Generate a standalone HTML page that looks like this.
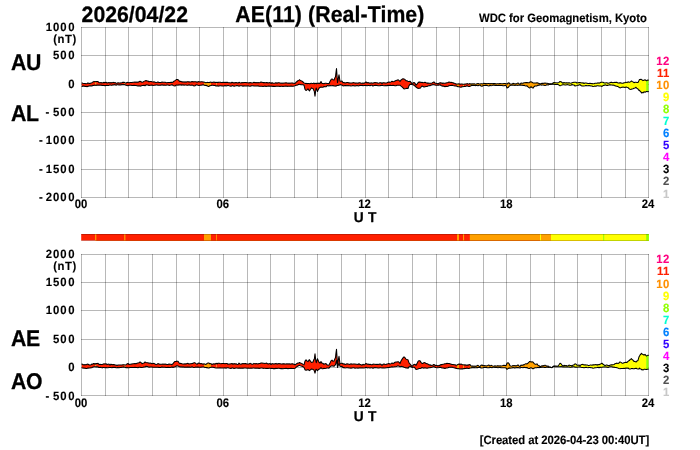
<!DOCTYPE html>
<html lang="en"><head><meta charset="utf-8"><title>AE(11) (Real-Time) 2026/04/22</title><style>html,body{margin:0;padding:0;background:#fff}body{width:700px;height:450px;overflow:hidden}svg{display:block}text{white-space:pre}</style></head><body>
<svg width="700" height="450" viewBox="0 0 700 450" font-family='"Liberation Sans", Arial, Helvetica, sans-serif' font-weight="bold" text-rendering="geometricPrecision" stroke="#000" stroke-width="0.25" stroke-linejoin="round">
<rect width="700" height="450" fill="#fff" stroke="none"/>
<g stroke="#000" stroke-opacity="0.28" stroke-width="1" shape-rendering="crispEdges"><line x1="81.5" y1="27" x2="81.5" y2="198"/><line x1="105.5" y1="27" x2="105.5" y2="198"/><line x1="128.5" y1="27" x2="128.5" y2="198"/><line x1="152.5" y1="27" x2="152.5" y2="198"/><line x1="176.5" y1="27" x2="176.5" y2="198"/><line x1="199.5" y1="27" x2="199.5" y2="198"/><line x1="223.5" y1="27" x2="223.5" y2="198"/><line x1="247.5" y1="27" x2="247.5" y2="198"/><line x1="270.5" y1="27" x2="270.5" y2="198"/><line x1="294.5" y1="27" x2="294.5" y2="198"/><line x1="317.5" y1="27" x2="317.5" y2="198"/><line x1="341.5" y1="27" x2="341.5" y2="198"/><line x1="365.5" y1="27" x2="365.5" y2="198"/><line x1="388.5" y1="27" x2="388.5" y2="198"/><line x1="412.5" y1="27" x2="412.5" y2="198"/><line x1="436.5" y1="27" x2="436.5" y2="198"/><line x1="459.5" y1="27" x2="459.5" y2="198"/><line x1="483.5" y1="27" x2="483.5" y2="198"/><line x1="506.5" y1="27" x2="506.5" y2="198"/><line x1="530.5" y1="27" x2="530.5" y2="198"/><line x1="554.5" y1="27" x2="554.5" y2="198"/><line x1="577.5" y1="27" x2="577.5" y2="198"/><line x1="601.5" y1="27" x2="601.5" y2="198"/><line x1="625.5" y1="27" x2="625.5" y2="198"/><line x1="648.5" y1="27" x2="648.5" y2="198"/><line x1="81" y1="27.5" x2="649" y2="27.5"/><line x1="81" y1="55.5" x2="649" y2="55.5"/><line x1="81" y1="84.5" x2="649" y2="84.5"/><line x1="81" y1="112.5" x2="649" y2="112.5"/><line x1="81" y1="140.5" x2="649" y2="140.5"/><line x1="81" y1="169.5" x2="649" y2="169.5"/><line x1="81" y1="197.5" x2="649" y2="197.5"/></g>
<g stroke="#000" stroke-opacity="0.28" stroke-width="1" shape-rendering="crispEdges"><line x1="81.5" y1="254" x2="81.5" y2="396"/><line x1="105.5" y1="254" x2="105.5" y2="396"/><line x1="128.5" y1="254" x2="128.5" y2="396"/><line x1="152.5" y1="254" x2="152.5" y2="396"/><line x1="176.5" y1="254" x2="176.5" y2="396"/><line x1="199.5" y1="254" x2="199.5" y2="396"/><line x1="223.5" y1="254" x2="223.5" y2="396"/><line x1="247.5" y1="254" x2="247.5" y2="396"/><line x1="270.5" y1="254" x2="270.5" y2="396"/><line x1="294.5" y1="254" x2="294.5" y2="396"/><line x1="317.5" y1="254" x2="317.5" y2="396"/><line x1="341.5" y1="254" x2="341.5" y2="396"/><line x1="365.5" y1="254" x2="365.5" y2="396"/><line x1="388.5" y1="254" x2="388.5" y2="396"/><line x1="412.5" y1="254" x2="412.5" y2="396"/><line x1="436.5" y1="254" x2="436.5" y2="396"/><line x1="459.5" y1="254" x2="459.5" y2="396"/><line x1="483.5" y1="254" x2="483.5" y2="396"/><line x1="506.5" y1="254" x2="506.5" y2="396"/><line x1="530.5" y1="254" x2="530.5" y2="396"/><line x1="554.5" y1="254" x2="554.5" y2="396"/><line x1="577.5" y1="254" x2="577.5" y2="396"/><line x1="601.5" y1="254" x2="601.5" y2="396"/><line x1="625.5" y1="254" x2="625.5" y2="396"/><line x1="648.5" y1="254" x2="648.5" y2="396"/><line x1="81" y1="254.5" x2="649" y2="254.5"/><line x1="81" y1="282.5" x2="649" y2="282.5"/><line x1="81" y1="310.5" x2="649" y2="310.5"/><line x1="81" y1="339.5" x2="649" y2="339.5"/><line x1="81" y1="367.5" x2="649" y2="367.5"/><line x1="81" y1="395.5" x2="649" y2="395.5"/></g>
<clipPath id="c1"><polygon points="81.8,83.40 82.0,82.96 83.0,83.25 84.0,83.51 85.0,83.40 86.0,83.73 87.0,83.47 88.0,82.84 88.4,83.35 89.0,83.41 90.0,83.39 91.0,82.99 92.0,82.64 93.0,81.93 93.5,81.67 94.0,81.38 95.0,81.76 96.0,81.61 97.0,81.59 98.0,81.56 99.0,82.62 100.0,82.66 101.0,82.55 102.0,83.08 103.0,82.64 104.0,82.37 105.0,82.64 106.0,82.23 107.0,82.98 108.0,82.66 109.0,82.60 110.0,83.01 111.0,82.42 112.0,82.91 113.0,82.35 114.0,82.67 115.0,82.56 116.0,83.17 117.0,83.25 118.0,82.81 119.0,83.09 120.0,82.89 121.0,82.99 122.0,82.63 123.0,82.36 124.0,82.28 125.0,82.70 126.0,83.04 127.0,82.55 128.0,82.34 129.0,82.88 130.0,82.52 131.0,82.46 132.0,82.47 133.0,82.35 134.0,82.29 135.0,82.01 136.0,82.30 137.0,82.02 138.0,82.17 139.0,81.68 140.0,81.21 141.0,81.74 142.0,82.27 143.0,81.94 144.0,81.40 145.0,80.90 146.0,80.49 147.0,80.93 148.0,81.00 149.0,81.85 150.0,81.50 151.0,81.55 152.0,81.81 153.0,81.98 154.0,81.83 155.0,82.17 156.0,82.49 157.0,82.28 158.0,81.93 159.0,82.47 160.0,82.52 161.0,82.42 162.0,82.12 163.0,82.28 164.0,82.20 165.0,82.26 166.0,82.61 167.0,82.66 168.0,82.47 169.0,82.45 170.0,82.54 171.0,82.39 172.0,82.38 173.0,82.18 174.0,81.21 175.0,80.62 176.0,79.92 176.5,79.45 177.0,79.52 178.0,79.63 179.0,80.76 180.0,81.61 181.0,81.36 182.0,81.93 183.0,81.70 184.0,82.14 185.0,81.86 186.0,82.20 187.0,81.72 188.0,81.76 189.0,81.89 190.0,82.06 191.0,81.95 192.0,81.55 193.0,81.87 194.0,81.83 195.0,81.73 196.0,81.68 197.0,82.21 198.0,81.74 199.0,81.64 200.0,81.97 201.0,81.85 202.0,81.81 203.0,82.00 204.0,81.93 205.0,82.60 206.0,82.74 206.5,82.59 207.0,82.39 208.0,82.45 209.0,82.41 209.5,82.57 210.0,82.29 211.0,82.12 212.0,82.54 213.0,82.21 214.0,82.04 215.0,82.53 216.0,82.30 217.0,82.57 218.0,82.36 219.0,82.23 220.0,82.21 221.0,82.38 222.0,82.44 223.0,82.33 224.0,82.46 225.0,82.19 226.0,82.54 227.0,82.15 228.0,82.51 229.0,82.71 230.0,82.81 231.0,82.95 232.0,82.24 233.0,82.76 234.0,82.86 235.0,82.82 236.0,82.41 237.0,82.71 238.0,83.04 239.0,82.31 240.0,82.75 241.0,82.90 242.0,82.51 243.0,82.80 244.0,82.44 245.0,82.51 246.0,82.51 247.0,82.74 248.0,82.69 249.0,82.93 250.0,82.52 251.0,82.68 252.0,82.90 253.0,82.79 254.0,82.35 255.0,82.77 256.0,82.50 257.0,82.67 258.0,82.63 259.0,82.81 260.0,82.55 261.0,82.10 262.0,82.18 263.0,82.63 264.0,82.39 265.0,82.68 266.0,82.61 267.0,82.50 268.0,83.02 269.0,82.73 270.0,82.57 271.0,83.48 272.0,82.61 273.0,83.18 274.0,83.25 275.0,83.08 276.0,82.68 277.0,83.28 278.0,82.74 279.0,82.77 280.0,82.99 281.0,83.25 282.0,83.14 283.0,83.26 284.0,82.99 285.0,83.05 286.0,82.84 287.0,83.03 288.0,83.23 289.0,83.04 290.0,83.22 291.0,82.99 292.0,82.99 293.0,83.13 294.0,83.18 295.0,83.49 296.0,82.28 297.0,81.51 298.0,80.60 299.0,80.12 299.5,79.70 300.0,80.13 301.0,80.68 302.0,81.11 303.0,82.01 304.0,82.88 305.0,83.40 306.0,83.31 307.0,83.64 308.0,83.45 309.0,83.51 309.5,83.68 310.0,83.68 311.0,83.35 311.5,83.31 312.0,83.49 313.0,83.40 314.0,83.01 314.3,83.71 315.0,83.43 315.8,83.59 316.0,83.17 316.3,83.71 317.0,83.30 317.5,83.40 318.0,83.12 319.0,83.39 320.0,83.37 321.0,81.58 322.0,83.52 323.0,83.44 324.0,83.64 325.0,83.32 326.0,83.21 327.0,83.42 328.0,83.56 329.0,83.70 330.0,81.50 331.0,79.69 332.0,78.91 333.0,79.70 334.0,79.94 335.0,77.61 335.5,76.69 336.0,72.41 336.5,68.57 337.0,75.42 337.5,82.73 338.0,80.03 339.0,74.77 340.0,81.26 341.0,81.33 342.0,81.00 343.0,82.73 344.0,82.37 345.0,83.12 346.0,82.80 347.0,82.46 348.0,82.54 349.0,82.88 350.0,83.09 351.0,82.91 352.0,83.03 353.0,82.68 354.0,82.63 355.0,83.12 356.0,83.03 357.0,82.92 358.0,83.21 359.0,82.72 360.0,82.83 361.0,83.15 362.0,83.33 363.0,82.93 364.0,83.29 365.0,82.79 366.0,81.80 367.0,82.89 368.0,82.58 369.0,82.98 370.0,83.13 371.0,82.89 372.0,82.91 373.0,83.23 374.0,82.65 375.0,82.60 376.0,82.78 377.0,82.66 378.0,83.22 379.0,82.99 380.0,82.73 381.0,82.79 382.0,83.53 383.0,82.79 384.0,82.76 385.0,82.99 386.0,82.91 387.0,82.65 388.0,82.25 389.0,82.03 390.0,82.26 391.0,81.89 392.0,81.32 393.0,81.72 394.0,81.42 395.0,80.97 396.0,80.60 397.0,80.34 398.0,79.77 399.0,80.38 400.0,81.50 401.0,80.01 402.0,79.31 403.0,78.76 404.0,78.90 405.0,79.60 406.0,80.72 407.0,80.79 408.0,81.41 409.0,81.43 410.0,81.18 411.0,82.35 412.0,83.62 413.0,82.99 414.0,82.49 415.0,83.21 416.0,85.21 417.0,84.16 418.0,82.78 419.0,81.97 420.0,82.11 421.0,82.49 422.0,82.32 423.0,82.71 424.0,82.51 425.0,82.25 426.0,82.80 427.0,83.11 428.0,83.02 429.0,83.31 430.0,83.25 431.0,83.35 432.0,82.98 433.0,82.52 433.5,82.00 434.0,81.92 435.0,83.09 436.0,83.17 437.0,83.45 438.0,83.72 439.0,83.22 440.0,82.86 441.0,82.80 442.0,83.38 443.0,83.12 444.0,83.24 445.0,83.33 446.0,82.96 447.0,82.76 448.0,82.54 449.0,82.07 450.0,82.25 451.0,82.49 452.0,82.39 453.0,82.88 454.0,83.13 455.0,83.56 456.0,84.05 457.0,84.03 458.0,84.10 459.0,83.75 460.0,84.26 461.0,83.99 462.0,84.03 463.0,84.26 464.0,84.16 465.0,83.91 466.0,84.10 467.0,83.61 468.0,84.02 469.0,83.96 470.0,83.57 471.0,84.21 472.0,83.75 473.0,84.05 474.0,83.79 475.0,84.09 476.0,84.15 477.0,83.67 478.0,83.51 479.0,83.81 480.0,84.01 481.0,83.74 482.0,83.68 483.0,83.91 484.0,83.20 485.0,83.64 486.0,83.48 487.0,83.84 488.0,83.60 489.0,83.51 490.0,83.67 491.0,83.42 492.0,83.73 493.0,83.58 494.0,83.64 495.0,83.56 496.0,83.91 497.0,83.68 498.0,83.81 499.0,83.79 500.0,83.50 501.0,83.79 502.0,83.74 503.0,83.72 504.0,83.56 505.0,83.55 506.0,83.81 507.0,84.11 508.0,83.04 508.5,83.14 509.0,82.74 510.0,84.10 511.0,84.02 512.0,84.16 513.0,83.33 514.0,83.79 515.0,83.71 516.0,83.90 517.0,83.37 518.0,82.98 519.0,83.68 520.0,84.34 521.0,83.05 522.0,83.31 523.0,83.17 524.0,82.83 525.0,82.75 526.0,82.53 527.0,82.62 528.0,82.82 529.0,82.74 529.5,82.45 530.0,82.01 531.0,81.75 532.0,82.22 533.0,82.95 534.0,83.00 535.0,82.99 536.0,83.07 537.0,82.67 538.0,83.01 539.0,83.64 540.0,83.67 541.0,83.75 542.0,83.17 543.0,83.36 544.0,83.32 545.0,83.07 546.0,83.34 547.0,83.30 548.0,83.52 549.0,83.80 550.0,83.89 551.0,83.85 552.0,83.96 553.0,82.97 554.0,82.46 555.0,82.82 556.0,82.85 557.0,83.01 558.0,82.88 559.0,82.38 560.0,81.49 561.0,81.71 562.0,82.52 563.0,83.26 564.0,82.51 565.0,83.03 566.0,82.86 567.0,82.74 568.0,83.03 569.0,82.64 570.0,82.99 571.0,83.15 572.0,82.84 573.0,82.55 574.0,82.29 575.0,82.34 576.0,82.28 577.0,83.10 578.0,82.75 579.0,82.64 580.0,82.64 581.0,82.73 582.0,82.93 583.0,82.76 584.0,83.45 585.0,82.96 586.0,82.99 587.0,83.27 588.0,83.56 589.0,83.58 590.0,83.22 591.0,83.51 592.0,83.62 593.0,83.84 594.0,83.68 595.0,83.32 596.0,83.15 597.0,83.36 598.0,82.84 599.0,83.18 600.0,82.67 601.0,82.22 602.0,82.15 603.0,82.35 604.0,82.66 605.0,83.13 606.0,82.74 607.0,82.78 608.0,83.40 609.0,82.92 610.0,82.63 611.0,82.32 612.0,82.39 613.0,82.80 614.0,82.36 615.0,82.51 616.0,82.24 617.0,82.38 618.0,82.96 619.0,83.10 620.0,82.70 621.0,82.88 622.0,83.19 623.0,83.26 624.0,82.78 625.0,82.78 626.0,82.15 627.0,82.64 628.0,81.83 629.0,82.19 629.5,82.27 630.0,82.06 631.0,81.43 631.5,80.95 632.0,81.47 633.0,81.88 634.0,82.71 635.0,82.26 636.0,82.31 637.0,82.42 638.0,82.41 639.0,80.49 639.5,79.47 640.0,79.50 641.0,79.22 641.5,79.64 642.0,79.79 643.0,80.60 644.0,80.19 645.0,79.80 646.0,80.45 646.5,80.69 647.0,80.36 648.0,80.05 648.7,80.16 648.7,91.27 648.0,91.68 647.0,91.48 646.5,91.48 646.0,91.67 645.0,92.22 644.0,91.79 643.0,92.88 642.0,92.41 641.5,93.05 641.0,92.09 640.0,91.17 639.5,90.18 639.0,90.55 638.0,88.95 637.0,88.52 636.0,87.31 635.0,87.95 634.0,88.31 633.0,88.71 632.0,88.93 631.5,89.22 631.0,89.30 630.0,89.40 629.5,88.89 629.0,88.66 628.0,87.54 627.0,87.34 626.0,86.97 625.0,87.48 624.0,87.22 623.0,87.13 622.0,87.15 621.0,87.58 620.0,87.91 619.0,87.29 618.0,86.60 617.0,86.38 616.0,86.00 615.0,85.86 614.0,85.13 613.0,85.34 612.0,84.95 611.0,85.10 610.0,84.86 609.0,84.89 608.0,85.39 607.0,85.38 606.0,85.23 605.0,84.86 604.0,85.45 603.0,85.55 602.0,86.42 601.0,86.00 600.0,86.00 599.0,85.98 598.0,85.83 597.0,85.74 596.0,86.17 595.0,86.08 594.0,86.35 593.0,86.59 592.0,85.98 591.0,86.09 590.0,85.69 589.0,85.54 588.0,85.78 587.0,85.83 586.0,85.48 585.0,85.80 584.0,85.93 583.0,85.95 582.0,86.05 581.0,85.50 580.0,84.56 579.0,85.17 578.0,85.11 577.0,85.42 576.0,85.68 575.0,86.09 574.0,84.92 573.0,85.08 572.0,84.51 571.0,85.26 570.0,85.17 569.0,85.11 568.0,84.68 567.0,84.63 566.0,85.03 565.0,84.91 564.0,84.76 563.0,84.66 562.0,84.89 561.0,85.40 560.0,85.74 559.0,85.15 558.0,84.53 557.0,84.45 556.0,84.51 555.0,84.39 554.0,84.12 553.0,84.03 552.0,84.16 551.0,84.22 550.0,84.46 549.0,84.52 548.0,85.16 547.0,84.62 546.0,85.28 545.0,85.53 544.0,85.28 543.0,85.09 542.0,84.95 541.0,85.14 540.0,84.54 539.0,85.41 538.0,85.04 537.0,85.97 536.0,85.96 535.0,85.99 534.0,86.73 533.0,88.10 532.0,87.48 531.0,86.72 530.0,87.64 529.5,87.93 529.0,87.65 528.0,86.92 527.0,85.81 526.0,86.04 525.0,85.78 524.0,85.16 523.0,85.51 522.0,85.07 521.0,85.19 520.0,85.10 519.0,85.10 518.0,85.36 517.0,85.18 516.0,85.05 515.0,85.39 514.0,85.26 513.0,85.08 512.0,85.27 511.0,85.20 510.0,85.55 509.0,86.33 508.5,87.27 508.0,87.42 507.0,87.99 506.0,85.32 505.0,85.43 504.0,85.75 503.0,85.76 502.0,85.57 501.0,85.48 500.0,85.41 499.0,85.29 498.0,85.56 497.0,85.40 496.0,85.28 495.0,85.47 494.0,85.05 493.0,85.14 492.0,85.57 491.0,85.66 490.0,85.14 489.0,86.07 488.0,85.82 487.0,85.53 486.0,85.26 485.0,85.49 484.0,85.35 483.0,85.76 482.0,86.25 481.0,86.02 480.0,85.20 479.0,85.23 478.0,85.71 477.0,85.54 476.0,85.39 475.0,85.62 474.0,85.17 473.0,85.57 472.0,85.23 471.0,85.79 470.0,86.37 469.0,86.42 468.0,86.13 467.0,85.80 466.0,86.15 465.0,86.40 464.0,86.38 463.0,86.78 462.0,86.82 461.0,87.25 460.0,87.08 459.0,86.82 458.0,86.81 457.0,86.21 456.0,85.99 455.0,86.00 454.0,85.68 453.0,85.56 452.0,85.21 451.0,85.51 450.0,85.59 449.0,85.67 448.0,86.24 447.0,86.55 446.0,86.36 445.0,86.76 444.0,86.32 443.0,86.13 442.0,85.95 441.0,85.53 440.0,84.72 439.0,85.13 438.0,85.01 437.0,85.22 436.0,85.23 435.0,84.95 434.0,84.66 433.5,84.75 433.0,84.58 432.0,85.01 431.0,85.11 430.0,85.68 429.0,85.60 428.0,86.09 427.0,86.53 426.0,86.40 425.0,86.66 424.0,87.04 423.0,86.48 422.0,85.99 421.0,87.25 420.0,88.27 419.0,88.34 418.0,88.42 417.0,87.71 416.0,87.01 415.0,86.10 414.0,85.25 413.0,84.78 412.0,84.45 411.0,84.38 410.0,84.38 409.0,85.61 408.0,88.55 407.0,88.21 406.0,88.55 405.0,88.76 404.0,88.92 403.0,87.87 402.0,86.87 401.0,86.08 400.0,85.16 399.0,85.24 398.0,85.23 397.0,85.33 396.0,85.69 395.0,85.82 394.0,85.58 393.0,85.38 392.0,85.46 391.0,85.37 390.0,85.17 389.0,85.44 388.0,85.37 387.0,85.64 386.0,85.43 385.0,85.71 384.0,85.81 383.0,85.54 382.0,85.16 381.0,85.43 380.0,85.61 379.0,85.66 378.0,85.67 377.0,85.47 376.0,85.35 375.0,85.39 374.0,85.43 373.0,86.09 372.0,85.24 371.0,85.29 370.0,85.80 369.0,85.42 368.0,85.50 367.0,85.69 366.0,85.38 365.0,85.40 364.0,85.47 363.0,85.66 362.0,85.17 361.0,85.40 360.0,85.30 359.0,85.92 358.0,85.73 357.0,85.64 356.0,85.77 355.0,86.04 354.0,85.65 353.0,85.59 352.0,85.85 351.0,86.08 350.0,85.67 349.0,85.70 348.0,85.57 347.0,85.65 346.0,85.62 345.0,85.63 344.0,85.77 343.0,85.91 342.0,85.03 341.0,84.92 340.0,84.56 339.0,85.32 338.0,85.36 337.5,85.52 337.0,85.45 336.5,85.80 336.0,86.22 335.5,86.07 335.0,85.93 334.0,85.99 333.0,85.44 332.0,85.79 331.0,85.85 330.0,85.58 329.0,85.96 328.0,85.63 327.0,85.82 326.0,86.74 325.0,86.83 324.0,86.40 323.0,87.29 322.0,87.32 321.0,87.08 320.0,87.41 319.0,88.22 318.0,90.17 317.5,91.50 317.0,90.36 316.3,88.08 316.0,88.67 315.8,89.69 315.0,96.23 314.3,91.32 314.0,90.74 313.0,88.49 312.0,88.23 311.5,87.91 311.0,88.49 310.0,90.04 309.5,90.97 309.0,90.46 308.0,88.80 307.0,89.84 306.0,90.51 305.0,89.34 304.0,85.22 303.0,84.83 302.0,84.65 301.0,84.65 300.0,84.45 299.5,84.34 299.0,84.19 298.0,84.77 297.0,85.15 296.0,85.31 295.0,85.73 294.0,86.07 293.0,86.33 292.0,86.23 291.0,86.09 290.0,86.18 289.0,86.29 288.0,86.33 287.0,86.37 286.0,85.94 285.0,86.17 284.0,86.30 283.0,86.46 282.0,86.18 281.0,86.28 280.0,86.42 279.0,86.16 278.0,86.20 277.0,86.19 276.0,86.34 275.0,86.50 274.0,86.28 273.0,86.37 272.0,86.16 271.0,86.04 270.0,86.28 269.0,85.93 268.0,86.12 267.0,86.18 266.0,86.53 265.0,86.09 264.0,86.26 263.0,86.43 262.0,86.25 261.0,86.15 260.0,86.19 259.0,86.29 258.0,85.76 257.0,86.06 256.0,86.01 255.0,85.95 254.0,86.02 253.0,85.67 252.0,85.73 251.0,85.89 250.0,86.23 249.0,86.02 248.0,85.68 247.0,85.93 246.0,85.93 245.0,86.01 244.0,85.75 243.0,86.22 242.0,85.76 241.0,85.76 240.0,85.82 239.0,86.20 238.0,85.65 237.0,85.64 236.0,85.82 235.0,85.91 234.0,86.34 233.0,85.58 232.0,85.79 231.0,86.34 230.0,85.97 229.0,85.74 228.0,85.38 227.0,85.68 226.0,86.07 225.0,85.51 224.0,85.93 223.0,85.91 222.0,86.05 221.0,85.76 220.0,85.73 219.0,86.07 218.0,86.11 217.0,85.71 216.0,86.05 215.0,85.43 214.0,85.42 213.0,85.27 212.0,85.26 211.0,85.47 210.0,85.68 209.5,85.80 209.0,86.37 208.0,86.40 207.0,85.62 206.5,85.77 206.0,85.20 205.0,85.41 204.0,85.03 203.0,84.78 202.0,84.97 201.0,85.27 200.0,85.21 199.0,85.55 198.0,85.34 197.0,84.88 196.0,84.94 195.0,85.76 194.0,85.92 193.0,85.38 192.0,85.01 191.0,85.20 190.0,85.30 189.0,84.70 188.0,85.33 187.0,85.19 186.0,85.03 185.0,84.97 184.0,85.16 183.0,84.73 182.0,85.13 181.0,84.87 180.0,85.05 179.0,84.82 178.0,85.26 177.0,84.98 176.5,85.11 176.0,85.28 175.0,86.02 174.0,85.73 173.0,85.40 172.0,84.64 171.0,85.01 170.0,85.15 169.0,85.39 168.0,84.95 167.0,85.03 166.0,85.28 165.0,85.18 164.0,84.95 163.0,85.19 162.0,84.79 161.0,85.14 160.0,85.19 159.0,85.27 158.0,85.27 157.0,85.01 156.0,84.95 155.0,85.15 154.0,85.35 153.0,85.43 152.0,84.99 151.0,85.17 150.0,85.25 149.0,85.58 148.0,85.04 147.0,85.08 146.0,84.88 145.0,85.81 144.0,85.24 143.0,85.53 142.0,85.40 141.0,86.08 140.0,86.12 139.0,85.81 138.0,86.08 137.0,85.65 136.0,85.48 135.0,85.51 134.0,85.37 133.0,85.45 132.0,85.50 131.0,85.27 130.0,85.18 129.0,85.28 128.0,85.84 127.0,85.49 126.0,85.34 125.0,84.73 124.0,84.48 123.0,84.67 122.0,84.57 121.0,84.95 120.0,84.79 119.0,85.10 118.0,84.83 117.0,84.80 116.0,85.18 115.0,84.58 114.0,85.02 113.0,84.83 112.0,85.20 111.0,85.24 110.0,84.87 109.0,85.41 108.0,85.46 107.0,85.34 106.0,85.45 105.0,85.61 104.0,85.45 103.0,85.37 102.0,85.48 101.0,85.00 100.0,85.29 99.0,85.03 98.0,85.32 97.0,85.12 96.0,85.44 95.0,85.01 94.0,85.39 93.5,85.52 93.0,85.22 92.0,86.08 91.0,85.78 90.0,85.86 89.0,86.02 88.4,86.28 88.0,86.21 87.0,86.69 86.0,86.35 85.0,86.40 84.0,86.06 83.0,86.12 82.0,86.44 81.8,86.19"/></clipPath><g clip-path="url(#c1)" stroke="none"><rect x="80.60" y="60" width="14.90" height="45" fill="#ff2000"/><rect x="95.25" y="60" width="0.90" height="45" fill="#ffa000"/><rect x="96.15" y="60" width="28.45" height="45" fill="#ff2000"/><rect x="124.35" y="60" width="0.90" height="45" fill="#ffa000"/><rect x="125.25" y="60" width="79.15" height="45" fill="#ff2000"/><rect x="204.00" y="60" width="7.40" height="45" fill="#ffa000"/><rect x="211.00" y="60" width="5.60" height="45" fill="#ff2000"/><rect x="216.35" y="60" width="0.50" height="45" fill="#ffa000"/><rect x="216.85" y="60" width="240.55" height="45" fill="#ff2000"/><rect x="457.00" y="60" width="2.40" height="45" fill="#ffa000"/><rect x="459.00" y="60" width="4.40" height="45" fill="#ff2000"/><rect x="463.15" y="60" width="0.80" height="45" fill="#ffa000"/><rect x="463.95" y="60" width="6.25" height="45" fill="#ff2000"/><rect x="469.80" y="60" width="70.60" height="45" fill="#ffa000"/><rect x="540.15" y="60" width="0.70" height="45" fill="#ffff00"/><rect x="540.85" y="60" width="10.55" height="45" fill="#ffa000"/><rect x="551.00" y="60" width="52.60" height="45" fill="#ffff00"/><rect x="603.35" y="60" width="0.70" height="45" fill="#90ff00"/><rect x="604.05" y="60" width="42.55" height="45" fill="#ffff00"/><rect x="646.20" y="60" width="2.60" height="45" fill="#90ff00"/></g><g fill="none" stroke="#000" stroke-width="1.05" stroke-linejoin="round"><polyline points="81.8,83.40 82.0,82.96 83.0,83.25 84.0,83.51 85.0,83.40 86.0,83.73 87.0,83.47 88.0,82.84 88.4,83.35 89.0,83.41 90.0,83.39 91.0,82.99 92.0,82.64 93.0,81.93 93.5,81.67 94.0,81.38 95.0,81.76 96.0,81.61 97.0,81.59 98.0,81.56 99.0,82.62 100.0,82.66 101.0,82.55 102.0,83.08 103.0,82.64 104.0,82.37 105.0,82.64 106.0,82.23 107.0,82.98 108.0,82.66 109.0,82.60 110.0,83.01 111.0,82.42 112.0,82.91 113.0,82.35 114.0,82.67 115.0,82.56 116.0,83.17 117.0,83.25 118.0,82.81 119.0,83.09 120.0,82.89 121.0,82.99 122.0,82.63 123.0,82.36 124.0,82.28 125.0,82.70 126.0,83.04 127.0,82.55 128.0,82.34 129.0,82.88 130.0,82.52 131.0,82.46 132.0,82.47 133.0,82.35 134.0,82.29 135.0,82.01 136.0,82.30 137.0,82.02 138.0,82.17 139.0,81.68 140.0,81.21 141.0,81.74 142.0,82.27 143.0,81.94 144.0,81.40 145.0,80.90 146.0,80.49 147.0,80.93 148.0,81.00 149.0,81.85 150.0,81.50 151.0,81.55 152.0,81.81 153.0,81.98 154.0,81.83 155.0,82.17 156.0,82.49 157.0,82.28 158.0,81.93 159.0,82.47 160.0,82.52 161.0,82.42 162.0,82.12 163.0,82.28 164.0,82.20 165.0,82.26 166.0,82.61 167.0,82.66 168.0,82.47 169.0,82.45 170.0,82.54 171.0,82.39 172.0,82.38 173.0,82.18 174.0,81.21 175.0,80.62 176.0,79.92 176.5,79.45 177.0,79.52 178.0,79.63 179.0,80.76 180.0,81.61 181.0,81.36 182.0,81.93 183.0,81.70 184.0,82.14 185.0,81.86 186.0,82.20 187.0,81.72 188.0,81.76 189.0,81.89 190.0,82.06 191.0,81.95 192.0,81.55 193.0,81.87 194.0,81.83 195.0,81.73 196.0,81.68 197.0,82.21 198.0,81.74 199.0,81.64 200.0,81.97 201.0,81.85 202.0,81.81 203.0,82.00 204.0,81.93 205.0,82.60 206.0,82.74 206.5,82.59 207.0,82.39 208.0,82.45 209.0,82.41 209.5,82.57 210.0,82.29 211.0,82.12 212.0,82.54 213.0,82.21 214.0,82.04 215.0,82.53 216.0,82.30 217.0,82.57 218.0,82.36 219.0,82.23 220.0,82.21 221.0,82.38 222.0,82.44 223.0,82.33 224.0,82.46 225.0,82.19 226.0,82.54 227.0,82.15 228.0,82.51 229.0,82.71 230.0,82.81 231.0,82.95 232.0,82.24 233.0,82.76 234.0,82.86 235.0,82.82 236.0,82.41 237.0,82.71 238.0,83.04 239.0,82.31 240.0,82.75 241.0,82.90 242.0,82.51 243.0,82.80 244.0,82.44 245.0,82.51 246.0,82.51 247.0,82.74 248.0,82.69 249.0,82.93 250.0,82.52 251.0,82.68 252.0,82.90 253.0,82.79 254.0,82.35 255.0,82.77 256.0,82.50 257.0,82.67 258.0,82.63 259.0,82.81 260.0,82.55 261.0,82.10 262.0,82.18 263.0,82.63 264.0,82.39 265.0,82.68 266.0,82.61 267.0,82.50 268.0,83.02 269.0,82.73 270.0,82.57 271.0,83.48 272.0,82.61 273.0,83.18 274.0,83.25 275.0,83.08 276.0,82.68 277.0,83.28 278.0,82.74 279.0,82.77 280.0,82.99 281.0,83.25 282.0,83.14 283.0,83.26 284.0,82.99 285.0,83.05 286.0,82.84 287.0,83.03 288.0,83.23 289.0,83.04 290.0,83.22 291.0,82.99 292.0,82.99 293.0,83.13 294.0,83.18 295.0,83.49 296.0,82.28 297.0,81.51 298.0,80.60 299.0,80.12 299.5,79.70 300.0,80.13 301.0,80.68 302.0,81.11 303.0,82.01 304.0,82.88 305.0,83.40 306.0,83.31 307.0,83.64 308.0,83.45 309.0,83.51 309.5,83.68 310.0,83.68 311.0,83.35 311.5,83.31 312.0,83.49 313.0,83.40 314.0,83.01 314.3,83.71 315.0,83.43 315.8,83.59 316.0,83.17 316.3,83.71 317.0,83.30 317.5,83.40 318.0,83.12 319.0,83.39 320.0,83.37 321.0,81.58 322.0,83.52 323.0,83.44 324.0,83.64 325.0,83.32 326.0,83.21 327.0,83.42 328.0,83.56 329.0,83.70 330.0,81.50 331.0,79.69 332.0,78.91 333.0,79.70 334.0,79.94 335.0,77.61 335.5,76.69 336.0,72.41 336.5,68.57 337.0,75.42 337.5,82.73 338.0,80.03 339.0,74.77 340.0,81.26 341.0,81.33 342.0,81.00 343.0,82.73 344.0,82.37 345.0,83.12 346.0,82.80 347.0,82.46 348.0,82.54 349.0,82.88 350.0,83.09 351.0,82.91 352.0,83.03 353.0,82.68 354.0,82.63 355.0,83.12 356.0,83.03 357.0,82.92 358.0,83.21 359.0,82.72 360.0,82.83 361.0,83.15 362.0,83.33 363.0,82.93 364.0,83.29 365.0,82.79 366.0,81.80 367.0,82.89 368.0,82.58 369.0,82.98 370.0,83.13 371.0,82.89 372.0,82.91 373.0,83.23 374.0,82.65 375.0,82.60 376.0,82.78 377.0,82.66 378.0,83.22 379.0,82.99 380.0,82.73 381.0,82.79 382.0,83.53 383.0,82.79 384.0,82.76 385.0,82.99 386.0,82.91 387.0,82.65 388.0,82.25 389.0,82.03 390.0,82.26 391.0,81.89 392.0,81.32 393.0,81.72 394.0,81.42 395.0,80.97 396.0,80.60 397.0,80.34 398.0,79.77 399.0,80.38 400.0,81.50 401.0,80.01 402.0,79.31 403.0,78.76 404.0,78.90 405.0,79.60 406.0,80.72 407.0,80.79 408.0,81.41 409.0,81.43 410.0,81.18 411.0,82.35 412.0,83.62 413.0,82.99 414.0,82.49 415.0,83.21 416.0,85.21 417.0,84.16 418.0,82.78 419.0,81.97 420.0,82.11 421.0,82.49 422.0,82.32 423.0,82.71 424.0,82.51 425.0,82.25 426.0,82.80 427.0,83.11 428.0,83.02 429.0,83.31 430.0,83.25 431.0,83.35 432.0,82.98 433.0,82.52 433.5,82.00 434.0,81.92 435.0,83.09 436.0,83.17 437.0,83.45 438.0,83.72 439.0,83.22 440.0,82.86 441.0,82.80 442.0,83.38 443.0,83.12 444.0,83.24 445.0,83.33 446.0,82.96 447.0,82.76 448.0,82.54 449.0,82.07 450.0,82.25 451.0,82.49 452.0,82.39 453.0,82.88 454.0,83.13 455.0,83.56 456.0,84.05 457.0,84.03 458.0,84.10 459.0,83.75 460.0,84.26 461.0,83.99 462.0,84.03 463.0,84.26 464.0,84.16 465.0,83.91 466.0,84.10 467.0,83.61 468.0,84.02 469.0,83.96 470.0,83.57 471.0,84.21 472.0,83.75 473.0,84.05 474.0,83.79 475.0,84.09 476.0,84.15 477.0,83.67 478.0,83.51 479.0,83.81 480.0,84.01 481.0,83.74 482.0,83.68 483.0,83.91 484.0,83.20 485.0,83.64 486.0,83.48 487.0,83.84 488.0,83.60 489.0,83.51 490.0,83.67 491.0,83.42 492.0,83.73 493.0,83.58 494.0,83.64 495.0,83.56 496.0,83.91 497.0,83.68 498.0,83.81 499.0,83.79 500.0,83.50 501.0,83.79 502.0,83.74 503.0,83.72 504.0,83.56 505.0,83.55 506.0,83.81 507.0,84.11 508.0,83.04 508.5,83.14 509.0,82.74 510.0,84.10 511.0,84.02 512.0,84.16 513.0,83.33 514.0,83.79 515.0,83.71 516.0,83.90 517.0,83.37 518.0,82.98 519.0,83.68 520.0,84.34 521.0,83.05 522.0,83.31 523.0,83.17 524.0,82.83 525.0,82.75 526.0,82.53 527.0,82.62 528.0,82.82 529.0,82.74 529.5,82.45 530.0,82.01 531.0,81.75 532.0,82.22 533.0,82.95 534.0,83.00 535.0,82.99 536.0,83.07 537.0,82.67 538.0,83.01 539.0,83.64 540.0,83.67 541.0,83.75 542.0,83.17 543.0,83.36 544.0,83.32 545.0,83.07 546.0,83.34 547.0,83.30 548.0,83.52 549.0,83.80 550.0,83.89 551.0,83.85 552.0,83.96 553.0,82.97 554.0,82.46 555.0,82.82 556.0,82.85 557.0,83.01 558.0,82.88 559.0,82.38 560.0,81.49 561.0,81.71 562.0,82.52 563.0,83.26 564.0,82.51 565.0,83.03 566.0,82.86 567.0,82.74 568.0,83.03 569.0,82.64 570.0,82.99 571.0,83.15 572.0,82.84 573.0,82.55 574.0,82.29 575.0,82.34 576.0,82.28 577.0,83.10 578.0,82.75 579.0,82.64 580.0,82.64 581.0,82.73 582.0,82.93 583.0,82.76 584.0,83.45 585.0,82.96 586.0,82.99 587.0,83.27 588.0,83.56 589.0,83.58 590.0,83.22 591.0,83.51 592.0,83.62 593.0,83.84 594.0,83.68 595.0,83.32 596.0,83.15 597.0,83.36 598.0,82.84 599.0,83.18 600.0,82.67 601.0,82.22 602.0,82.15 603.0,82.35 604.0,82.66 605.0,83.13 606.0,82.74 607.0,82.78 608.0,83.40 609.0,82.92 610.0,82.63 611.0,82.32 612.0,82.39 613.0,82.80 614.0,82.36 615.0,82.51 616.0,82.24 617.0,82.38 618.0,82.96 619.0,83.10 620.0,82.70 621.0,82.88 622.0,83.19 623.0,83.26 624.0,82.78 625.0,82.78 626.0,82.15 627.0,82.64 628.0,81.83 629.0,82.19 629.5,82.27 630.0,82.06 631.0,81.43 631.5,80.95 632.0,81.47 633.0,81.88 634.0,82.71 635.0,82.26 636.0,82.31 637.0,82.42 638.0,82.41 639.0,80.49 639.5,79.47 640.0,79.50 641.0,79.22 641.5,79.64 642.0,79.79 643.0,80.60 644.0,80.19 645.0,79.80 646.0,80.45 646.5,80.69 647.0,80.36 648.0,80.05 648.7,80.16"/><polyline points="648.7,91.27 648.0,91.68 647.0,91.48 646.5,91.48 646.0,91.67 645.0,92.22 644.0,91.79 643.0,92.88 642.0,92.41 641.5,93.05 641.0,92.09 640.0,91.17 639.5,90.18 639.0,90.55 638.0,88.95 637.0,88.52 636.0,87.31 635.0,87.95 634.0,88.31 633.0,88.71 632.0,88.93 631.5,89.22 631.0,89.30 630.0,89.40 629.5,88.89 629.0,88.66 628.0,87.54 627.0,87.34 626.0,86.97 625.0,87.48 624.0,87.22 623.0,87.13 622.0,87.15 621.0,87.58 620.0,87.91 619.0,87.29 618.0,86.60 617.0,86.38 616.0,86.00 615.0,85.86 614.0,85.13 613.0,85.34 612.0,84.95 611.0,85.10 610.0,84.86 609.0,84.89 608.0,85.39 607.0,85.38 606.0,85.23 605.0,84.86 604.0,85.45 603.0,85.55 602.0,86.42 601.0,86.00 600.0,86.00 599.0,85.98 598.0,85.83 597.0,85.74 596.0,86.17 595.0,86.08 594.0,86.35 593.0,86.59 592.0,85.98 591.0,86.09 590.0,85.69 589.0,85.54 588.0,85.78 587.0,85.83 586.0,85.48 585.0,85.80 584.0,85.93 583.0,85.95 582.0,86.05 581.0,85.50 580.0,84.56 579.0,85.17 578.0,85.11 577.0,85.42 576.0,85.68 575.0,86.09 574.0,84.92 573.0,85.08 572.0,84.51 571.0,85.26 570.0,85.17 569.0,85.11 568.0,84.68 567.0,84.63 566.0,85.03 565.0,84.91 564.0,84.76 563.0,84.66 562.0,84.89 561.0,85.40 560.0,85.74 559.0,85.15 558.0,84.53 557.0,84.45 556.0,84.51 555.0,84.39 554.0,84.12 553.0,84.03 552.0,84.16 551.0,84.22 550.0,84.46 549.0,84.52 548.0,85.16 547.0,84.62 546.0,85.28 545.0,85.53 544.0,85.28 543.0,85.09 542.0,84.95 541.0,85.14 540.0,84.54 539.0,85.41 538.0,85.04 537.0,85.97 536.0,85.96 535.0,85.99 534.0,86.73 533.0,88.10 532.0,87.48 531.0,86.72 530.0,87.64 529.5,87.93 529.0,87.65 528.0,86.92 527.0,85.81 526.0,86.04 525.0,85.78 524.0,85.16 523.0,85.51 522.0,85.07 521.0,85.19 520.0,85.10 519.0,85.10 518.0,85.36 517.0,85.18 516.0,85.05 515.0,85.39 514.0,85.26 513.0,85.08 512.0,85.27 511.0,85.20 510.0,85.55 509.0,86.33 508.5,87.27 508.0,87.42 507.0,87.99 506.0,85.32 505.0,85.43 504.0,85.75 503.0,85.76 502.0,85.57 501.0,85.48 500.0,85.41 499.0,85.29 498.0,85.56 497.0,85.40 496.0,85.28 495.0,85.47 494.0,85.05 493.0,85.14 492.0,85.57 491.0,85.66 490.0,85.14 489.0,86.07 488.0,85.82 487.0,85.53 486.0,85.26 485.0,85.49 484.0,85.35 483.0,85.76 482.0,86.25 481.0,86.02 480.0,85.20 479.0,85.23 478.0,85.71 477.0,85.54 476.0,85.39 475.0,85.62 474.0,85.17 473.0,85.57 472.0,85.23 471.0,85.79 470.0,86.37 469.0,86.42 468.0,86.13 467.0,85.80 466.0,86.15 465.0,86.40 464.0,86.38 463.0,86.78 462.0,86.82 461.0,87.25 460.0,87.08 459.0,86.82 458.0,86.81 457.0,86.21 456.0,85.99 455.0,86.00 454.0,85.68 453.0,85.56 452.0,85.21 451.0,85.51 450.0,85.59 449.0,85.67 448.0,86.24 447.0,86.55 446.0,86.36 445.0,86.76 444.0,86.32 443.0,86.13 442.0,85.95 441.0,85.53 440.0,84.72 439.0,85.13 438.0,85.01 437.0,85.22 436.0,85.23 435.0,84.95 434.0,84.66 433.5,84.75 433.0,84.58 432.0,85.01 431.0,85.11 430.0,85.68 429.0,85.60 428.0,86.09 427.0,86.53 426.0,86.40 425.0,86.66 424.0,87.04 423.0,86.48 422.0,85.99 421.0,87.25 420.0,88.27 419.0,88.34 418.0,88.42 417.0,87.71 416.0,87.01 415.0,86.10 414.0,85.25 413.0,84.78 412.0,84.45 411.0,84.38 410.0,84.38 409.0,85.61 408.0,88.55 407.0,88.21 406.0,88.55 405.0,88.76 404.0,88.92 403.0,87.87 402.0,86.87 401.0,86.08 400.0,85.16 399.0,85.24 398.0,85.23 397.0,85.33 396.0,85.69 395.0,85.82 394.0,85.58 393.0,85.38 392.0,85.46 391.0,85.37 390.0,85.17 389.0,85.44 388.0,85.37 387.0,85.64 386.0,85.43 385.0,85.71 384.0,85.81 383.0,85.54 382.0,85.16 381.0,85.43 380.0,85.61 379.0,85.66 378.0,85.67 377.0,85.47 376.0,85.35 375.0,85.39 374.0,85.43 373.0,86.09 372.0,85.24 371.0,85.29 370.0,85.80 369.0,85.42 368.0,85.50 367.0,85.69 366.0,85.38 365.0,85.40 364.0,85.47 363.0,85.66 362.0,85.17 361.0,85.40 360.0,85.30 359.0,85.92 358.0,85.73 357.0,85.64 356.0,85.77 355.0,86.04 354.0,85.65 353.0,85.59 352.0,85.85 351.0,86.08 350.0,85.67 349.0,85.70 348.0,85.57 347.0,85.65 346.0,85.62 345.0,85.63 344.0,85.77 343.0,85.91 342.0,85.03 341.0,84.92 340.0,84.56 339.0,85.32 338.0,85.36 337.5,85.52 337.0,85.45 336.5,85.80 336.0,86.22 335.5,86.07 335.0,85.93 334.0,85.99 333.0,85.44 332.0,85.79 331.0,85.85 330.0,85.58 329.0,85.96 328.0,85.63 327.0,85.82 326.0,86.74 325.0,86.83 324.0,86.40 323.0,87.29 322.0,87.32 321.0,87.08 320.0,87.41 319.0,88.22 318.0,90.17 317.5,91.50 317.0,90.36 316.3,88.08 316.0,88.67 315.8,89.69 315.0,96.23 314.3,91.32 314.0,90.74 313.0,88.49 312.0,88.23 311.5,87.91 311.0,88.49 310.0,90.04 309.5,90.97 309.0,90.46 308.0,88.80 307.0,89.84 306.0,90.51 305.0,89.34 304.0,85.22 303.0,84.83 302.0,84.65 301.0,84.65 300.0,84.45 299.5,84.34 299.0,84.19 298.0,84.77 297.0,85.15 296.0,85.31 295.0,85.73 294.0,86.07 293.0,86.33 292.0,86.23 291.0,86.09 290.0,86.18 289.0,86.29 288.0,86.33 287.0,86.37 286.0,85.94 285.0,86.17 284.0,86.30 283.0,86.46 282.0,86.18 281.0,86.28 280.0,86.42 279.0,86.16 278.0,86.20 277.0,86.19 276.0,86.34 275.0,86.50 274.0,86.28 273.0,86.37 272.0,86.16 271.0,86.04 270.0,86.28 269.0,85.93 268.0,86.12 267.0,86.18 266.0,86.53 265.0,86.09 264.0,86.26 263.0,86.43 262.0,86.25 261.0,86.15 260.0,86.19 259.0,86.29 258.0,85.76 257.0,86.06 256.0,86.01 255.0,85.95 254.0,86.02 253.0,85.67 252.0,85.73 251.0,85.89 250.0,86.23 249.0,86.02 248.0,85.68 247.0,85.93 246.0,85.93 245.0,86.01 244.0,85.75 243.0,86.22 242.0,85.76 241.0,85.76 240.0,85.82 239.0,86.20 238.0,85.65 237.0,85.64 236.0,85.82 235.0,85.91 234.0,86.34 233.0,85.58 232.0,85.79 231.0,86.34 230.0,85.97 229.0,85.74 228.0,85.38 227.0,85.68 226.0,86.07 225.0,85.51 224.0,85.93 223.0,85.91 222.0,86.05 221.0,85.76 220.0,85.73 219.0,86.07 218.0,86.11 217.0,85.71 216.0,86.05 215.0,85.43 214.0,85.42 213.0,85.27 212.0,85.26 211.0,85.47 210.0,85.68 209.5,85.80 209.0,86.37 208.0,86.40 207.0,85.62 206.5,85.77 206.0,85.20 205.0,85.41 204.0,85.03 203.0,84.78 202.0,84.97 201.0,85.27 200.0,85.21 199.0,85.55 198.0,85.34 197.0,84.88 196.0,84.94 195.0,85.76 194.0,85.92 193.0,85.38 192.0,85.01 191.0,85.20 190.0,85.30 189.0,84.70 188.0,85.33 187.0,85.19 186.0,85.03 185.0,84.97 184.0,85.16 183.0,84.73 182.0,85.13 181.0,84.87 180.0,85.05 179.0,84.82 178.0,85.26 177.0,84.98 176.5,85.11 176.0,85.28 175.0,86.02 174.0,85.73 173.0,85.40 172.0,84.64 171.0,85.01 170.0,85.15 169.0,85.39 168.0,84.95 167.0,85.03 166.0,85.28 165.0,85.18 164.0,84.95 163.0,85.19 162.0,84.79 161.0,85.14 160.0,85.19 159.0,85.27 158.0,85.27 157.0,85.01 156.0,84.95 155.0,85.15 154.0,85.35 153.0,85.43 152.0,84.99 151.0,85.17 150.0,85.25 149.0,85.58 148.0,85.04 147.0,85.08 146.0,84.88 145.0,85.81 144.0,85.24 143.0,85.53 142.0,85.40 141.0,86.08 140.0,86.12 139.0,85.81 138.0,86.08 137.0,85.65 136.0,85.48 135.0,85.51 134.0,85.37 133.0,85.45 132.0,85.50 131.0,85.27 130.0,85.18 129.0,85.28 128.0,85.84 127.0,85.49 126.0,85.34 125.0,84.73 124.0,84.48 123.0,84.67 122.0,84.57 121.0,84.95 120.0,84.79 119.0,85.10 118.0,84.83 117.0,84.80 116.0,85.18 115.0,84.58 114.0,85.02 113.0,84.83 112.0,85.20 111.0,85.24 110.0,84.87 109.0,85.41 108.0,85.46 107.0,85.34 106.0,85.45 105.0,85.61 104.0,85.45 103.0,85.37 102.0,85.48 101.0,85.00 100.0,85.29 99.0,85.03 98.0,85.32 97.0,85.12 96.0,85.44 95.0,85.01 94.0,85.39 93.5,85.52 93.0,85.22 92.0,86.08 91.0,85.78 90.0,85.86 89.0,86.02 88.4,86.28 88.0,86.21 87.0,86.69 86.0,86.35 85.0,86.40 84.0,86.06 83.0,86.12 82.0,86.44 81.8,86.19"/></g>
<clipPath id="c2"><polygon points="81.8,364.70 82.0,363.98 83.0,364.62 84.0,364.96 85.0,364.49 86.0,364.88 87.0,364.25 88.0,364.09 88.4,364.56 89.0,364.89 90.0,365.03 91.0,364.70 92.0,364.02 93.0,364.19 93.5,363.59 94.0,363.42 95.0,364.22 96.0,363.51 97.0,363.63 98.0,363.21 99.0,364.56 100.0,364.33 101.0,364.51 102.0,364.57 103.0,364.21 104.0,363.85 105.0,363.96 106.0,363.70 107.0,364.60 108.0,364.15 109.0,364.13 110.0,365.13 111.0,364.13 112.0,364.68 113.0,364.48 114.0,364.62 115.0,364.96 116.0,364.97 117.0,365.46 118.0,364.97 119.0,364.98 120.0,365.08 121.0,365.03 122.0,365.05 123.0,364.66 124.0,364.77 125.0,364.95 126.0,364.68 127.0,363.99 128.0,363.42 129.0,364.57 130.0,364.29 131.0,364.13 132.0,363.90 133.0,363.83 134.0,363.84 135.0,363.41 136.0,363.74 137.0,363.28 138.0,362.97 139.0,362.76 140.0,361.93 141.0,362.52 142.0,363.80 143.0,363.31 144.0,363.05 145.0,361.93 146.0,362.48 147.0,362.73 148.0,362.84 149.0,363.17 150.0,363.14 151.0,363.28 152.0,363.74 153.0,363.46 154.0,363.39 155.0,363.96 156.0,364.50 157.0,364.22 158.0,363.58 159.0,364.14 160.0,364.28 161.0,364.22 162.0,364.29 163.0,364.03 164.0,364.19 165.0,364.01 166.0,364.28 167.0,364.60 168.0,364.48 169.0,363.99 170.0,364.34 171.0,364.33 172.0,364.71 173.0,363.70 174.0,362.34 175.0,361.41 176.0,361.46 176.5,361.14 177.0,361.35 178.0,361.18 179.0,362.82 180.0,363.47 181.0,363.39 182.0,363.72 183.0,363.90 184.0,363.91 185.0,363.82 186.0,364.12 187.0,363.44 188.0,363.34 189.0,364.13 190.0,363.68 191.0,363.67 192.0,363.45 193.0,363.39 194.0,362.79 195.0,362.85 196.0,363.66 197.0,364.28 198.0,363.30 199.0,362.98 200.0,363.67 201.0,363.50 202.0,363.76 203.0,364.16 204.0,363.84 205.0,364.14 206.0,364.50 206.5,363.75 207.0,363.69 208.0,362.93 209.0,362.93 209.5,363.73 210.0,363.60 211.0,363.74 212.0,364.49 213.0,364.08 214.0,363.72 215.0,364.19 216.0,363.30 217.0,363.94 218.0,363.30 219.0,363.21 220.0,363.54 221.0,363.69 222.0,363.45 223.0,363.48 224.0,363.58 225.0,363.74 226.0,363.52 227.0,363.52 228.0,364.22 229.0,364.06 230.0,363.92 231.0,363.68 232.0,363.50 233.0,364.27 234.0,363.58 235.0,363.99 236.0,363.66 237.0,364.16 238.0,364.49 239.0,363.15 240.0,364.02 241.0,364.23 242.0,363.82 243.0,363.64 244.0,363.77 245.0,363.55 246.0,363.64 247.0,363.89 248.0,364.09 249.0,363.99 250.0,363.34 251.0,363.86 252.0,364.26 253.0,364.21 254.0,363.38 255.0,363.90 256.0,363.55 257.0,363.67 258.0,363.94 259.0,363.59 260.0,363.41 261.0,362.98 262.0,362.97 263.0,363.24 264.0,363.17 265.0,363.65 266.0,363.11 267.0,363.37 268.0,363.99 269.0,363.87 270.0,363.35 271.0,364.54 272.0,363.51 273.0,363.88 274.0,364.05 275.0,363.64 276.0,363.39 277.0,364.18 278.0,363.60 279.0,363.67 280.0,363.63 281.0,364.05 282.0,364.04 283.0,363.87 284.0,363.76 285.0,363.96 286.0,363.98 287.0,363.72 288.0,363.99 289.0,363.83 290.0,364.12 291.0,363.98 292.0,363.84 293.0,363.88 294.0,364.20 295.0,364.92 296.0,364.12 297.0,363.51 298.0,362.96 299.0,363.06 299.5,362.46 300.0,362.80 301.0,363.16 302.0,363.62 303.0,364.37 304.0,364.88 305.0,361.09 306.0,359.78 307.0,360.82 308.0,361.71 309.0,360.04 309.5,359.68 310.0,360.66 311.0,361.94 311.5,362.50 312.0,362.35 313.0,361.99 314.0,359.22 314.3,359.33 315.0,353.89 315.8,360.92 316.0,361.55 316.3,362.74 317.0,359.92 317.5,358.83 318.0,359.92 319.0,362.26 320.0,363.10 321.0,361.57 322.0,363.35 323.0,363.29 324.0,364.44 325.0,363.65 326.0,363.63 327.0,364.81 328.0,365.16 329.0,364.96 330.0,363.05 331.0,360.87 332.0,360.11 333.0,361.31 334.0,360.98 335.0,358.59 335.5,357.49 336.0,352.84 336.5,349.24 337.0,356.80 337.5,364.40 338.0,361.74 339.0,356.25 340.0,363.87 341.0,363.57 342.0,363.11 343.0,364.00 344.0,363.69 345.0,364.56 346.0,364.17 347.0,363.78 348.0,363.95 349.0,364.16 350.0,364.43 351.0,363.80 352.0,364.18 353.0,364.08 354.0,363.97 355.0,364.07 356.0,364.26 357.0,364.28 358.0,364.48 359.0,363.77 360.0,364.55 361.0,364.78 362.0,365.20 363.0,364.26 364.0,364.85 365.0,364.40 366.0,363.38 367.0,364.19 368.0,364.06 369.0,364.58 370.0,364.33 371.0,364.61 372.0,364.68 373.0,364.13 374.0,364.21 375.0,364.20 376.0,364.44 377.0,364.18 378.0,364.56 379.0,364.33 380.0,364.11 381.0,364.36 382.0,365.42 383.0,364.24 384.0,363.93 385.0,364.28 386.0,364.48 387.0,364.00 388.0,363.85 389.0,363.56 390.0,364.14 391.0,363.62 392.0,362.99 393.0,363.49 394.0,362.96 395.0,362.24 396.0,361.99 397.0,362.10 398.0,361.61 399.0,362.23 400.0,363.49 401.0,360.96 402.0,359.40 403.0,357.77 404.0,356.82 405.0,357.71 406.0,359.11 407.0,359.54 408.0,359.84 409.0,362.95 410.0,363.98 411.0,365.20 412.0,366.46 413.0,365.46 414.0,364.43 415.0,364.30 416.0,365.44 417.0,363.60 418.0,361.41 419.0,360.65 420.0,360.86 421.0,362.34 422.0,363.48 423.0,363.37 424.0,362.58 425.0,362.71 426.0,363.55 427.0,363.74 428.0,364.11 429.0,364.93 430.0,364.78 431.0,365.49 432.0,365.21 433.0,365.17 433.5,364.45 434.0,364.46 435.0,365.39 436.0,365.18 437.0,365.47 438.0,365.97 439.0,365.33 440.0,365.38 441.0,364.47 442.0,364.64 443.0,364.18 444.0,364.10 445.0,363.73 446.0,363.77 447.0,363.35 448.0,363.45 449.0,363.55 450.0,363.83 451.0,364.16 452.0,364.37 453.0,364.52 454.0,364.66 455.0,364.77 456.0,365.30 457.0,365.05 458.0,364.49 459.0,364.11 460.0,364.37 461.0,363.91 462.0,364.41 463.0,364.69 464.0,365.01 465.0,364.72 466.0,365.18 467.0,365.03 468.0,365.12 469.0,364.86 470.0,364.63 471.0,366.03 472.0,366.13 473.0,366.08 474.0,366.23 475.0,366.08 476.0,366.38 477.0,365.72 478.0,365.37 479.0,366.19 480.0,366.44 481.0,365.29 482.0,364.98 483.0,365.74 484.0,365.42 485.0,365.74 486.0,365.81 487.0,365.91 488.0,365.35 489.0,365.00 490.0,366.14 491.0,365.33 492.0,365.76 493.0,366.05 494.0,366.20 495.0,365.68 496.0,366.24 497.0,365.87 498.0,365.84 499.0,366.11 500.0,365.68 501.0,365.92 502.0,365.76 503.0,365.54 504.0,365.27 505.0,365.47 506.0,365.74 507.0,363.25 508.0,362.74 508.5,363.00 509.0,363.57 510.0,365.81 511.0,366.09 512.0,366.16 513.0,365.49 514.0,365.79 515.0,365.57 516.0,366.13 517.0,365.43 518.0,364.84 519.0,365.84 520.0,366.54 521.0,365.08 522.0,365.49 523.0,364.88 524.0,364.89 525.0,364.15 526.0,363.64 527.0,363.98 528.0,363.03 529.0,362.18 529.5,361.58 530.0,361.43 531.0,362.11 532.0,361.81 533.0,361.92 534.0,363.41 535.0,364.19 536.0,364.30 537.0,363.87 538.0,365.20 539.0,365.59 540.0,366.65 541.0,366.22 542.0,365.82 543.0,365.87 544.0,365.62 545.0,365.10 546.0,365.65 547.0,366.29 548.0,365.96 549.0,366.93 550.0,367.09 551.0,367.30 552.0,367.47 553.0,366.57 554.0,365.94 555.0,366.03 556.0,365.94 557.0,366.17 558.0,365.95 559.0,364.77 560.0,363.22 561.0,363.81 562.0,365.19 563.0,366.21 564.0,365.32 565.0,365.71 566.0,365.40 567.0,365.70 568.0,365.96 569.0,365.09 570.0,365.40 571.0,365.47 572.0,365.94 573.0,365.03 574.0,364.92 575.0,363.75 576.0,364.12 577.0,365.25 578.0,365.20 579.0,365.02 580.0,365.67 581.0,364.77 582.0,364.41 583.0,364.33 584.0,365.09 585.0,364.70 586.0,365.07 587.0,365.00 588.0,365.36 589.0,365.62 590.0,365.09 591.0,364.98 592.0,365.21 593.0,364.79 594.0,364.88 595.0,364.79 596.0,364.51 597.0,365.19 598.0,364.55 599.0,364.75 600.0,364.19 601.0,363.72 602.0,363.21 603.0,364.32 604.0,364.76 605.0,365.87 606.0,365.07 607.0,364.96 608.0,365.59 609.0,365.62 610.0,365.34 611.0,364.77 612.0,364.87 613.0,364.79 614.0,364.43 615.0,363.81 616.0,363.39 617.0,363.13 618.0,363.51 619.0,362.93 620.0,361.86 621.0,362.39 622.0,363.17 623.0,363.27 624.0,362.67 625.0,362.40 626.0,362.27 627.0,362.40 628.0,361.34 629.0,360.54 629.5,360.38 630.0,359.63 631.0,359.08 631.5,358.65 632.0,359.50 633.0,360.17 634.0,361.45 635.0,361.37 636.0,362.07 637.0,360.93 638.0,360.46 639.0,356.77 639.5,356.09 640.0,355.08 641.0,353.82 641.5,353.26 642.0,354.08 643.0,354.45 644.0,355.16 645.0,354.29 646.0,355.55 646.5,356.00 647.0,355.66 648.0,355.11 648.7,355.67 648.7,369.06 648.0,369.21 647.0,369.26 646.5,369.43 646.0,369.40 645.0,369.35 644.0,369.33 643.0,370.08 642.0,369.44 641.5,369.69 641.0,368.99 640.0,368.68 639.5,368.16 639.0,368.86 638.0,369.02 637.0,368.81 636.0,368.15 635.0,368.45 634.0,368.85 633.0,368.64 632.0,368.54 631.5,368.43 631.0,368.71 630.0,369.07 629.5,368.92 629.0,368.76 628.0,368.02 627.0,368.33 626.0,367.90 625.0,368.48 624.0,368.34 623.0,368.54 622.0,368.51 621.0,368.57 620.0,368.65 619.0,368.54 618.0,368.12 617.0,367.72 616.0,367.46 615.0,367.53 614.0,367.09 613.0,367.31 612.0,366.81 611.0,366.75 610.0,366.79 609.0,366.94 608.0,367.44 607.0,367.12 606.0,367.03 605.0,367.04 604.0,367.10 603.0,366.99 602.0,367.33 601.0,367.15 600.0,367.38 599.0,367.62 598.0,367.38 597.0,367.59 596.0,367.70 595.0,367.74 594.0,368.06 593.0,368.26 592.0,367.84 591.0,367.84 590.0,367.49 589.0,367.60 588.0,367.72 587.0,367.59 586.0,367.28 585.0,367.42 584.0,367.73 583.0,367.40 582.0,367.53 581.0,367.16 580.0,366.64 579.0,366.95 578.0,366.97 577.0,367.30 576.0,367.02 575.0,367.26 574.0,366.65 573.0,366.86 572.0,366.72 571.0,367.25 570.0,367.12 569.0,366.91 568.0,366.90 567.0,366.72 566.0,366.98 565.0,367.01 564.0,366.68 563.0,367.00 562.0,366.74 561.0,366.60 560.0,366.66 559.0,366.81 558.0,366.75 557.0,366.77 556.0,366.72 555.0,366.65 554.0,366.33 553.0,366.77 552.0,367.67 551.0,367.50 550.0,367.29 549.0,367.20 548.0,367.38 547.0,367.00 546.0,367.35 545.0,367.35 544.0,367.35 543.0,367.27 542.0,367.10 541.0,367.49 540.0,367.24 539.0,367.76 538.0,367.36 537.0,367.66 536.0,367.85 535.0,367.83 534.0,368.21 533.0,368.86 532.0,368.19 531.0,367.58 530.0,368.16 529.5,368.53 529.0,368.54 528.0,368.22 527.0,367.56 526.0,367.63 525.0,367.60 524.0,367.33 523.0,367.68 522.0,367.53 521.0,367.46 520.0,368.06 519.0,367.73 518.0,367.51 517.0,367.61 516.0,367.82 515.0,367.89 514.0,367.87 513.0,367.55 512.0,368.06 511.0,367.96 510.0,368.16 509.0,367.88 508.5,368.55 508.0,368.57 507.0,369.39 506.0,367.91 505.0,367.71 504.0,367.76 503.0,367.73 502.0,367.65 501.0,367.63 500.0,367.45 499.0,367.53 498.0,367.68 497.0,367.53 496.0,367.59 495.0,367.50 494.0,367.34 493.0,367.35 492.0,367.64 491.0,367.53 490.0,367.40 489.0,367.78 488.0,367.71 487.0,367.68 486.0,367.36 485.0,367.56 484.0,367.26 483.0,367.83 482.0,367.95 481.0,367.87 480.0,367.60 479.0,367.51 478.0,367.60 477.0,367.60 476.0,367.77 475.0,367.85 474.0,367.48 473.0,367.80 472.0,367.48 471.0,367.99 470.0,368.08 469.0,368.41 468.0,368.42 467.0,368.05 466.0,368.46 465.0,368.50 464.0,368.61 463.0,368.86 462.0,368.77 461.0,368.96 460.0,369.01 459.0,368.63 458.0,368.80 457.0,368.46 456.0,368.36 455.0,368.12 454.0,367.74 453.0,367.56 452.0,367.14 451.0,367.34 450.0,367.26 449.0,367.21 448.0,367.73 447.0,368.00 446.0,368.00 445.0,368.39 444.0,368.13 443.0,367.97 442.0,368.01 441.0,367.51 440.0,367.14 439.0,367.52 438.0,367.71 437.0,367.68 436.0,367.54 435.0,367.36 434.0,366.63 433.5,366.72 433.0,366.89 432.0,367.34 431.0,367.57 430.0,367.81 429.0,367.80 428.0,367.90 427.0,368.16 426.0,367.94 425.0,367.80 424.0,368.12 423.0,367.94 422.0,367.50 421.0,368.21 420.0,368.53 419.0,368.50 418.0,368.94 417.0,369.28 416.0,369.45 415.0,368.00 414.0,367.21 413.0,367.23 412.0,367.37 411.0,366.70 410.0,366.12 409.0,366.86 408.0,368.33 407.0,367.84 406.0,367.97 405.0,367.52 404.0,367.25 403.0,366.65 402.0,366.43 401.0,366.39 400.0,366.67 399.0,366.15 398.0,365.84 397.0,366.18 396.0,366.49 395.0,366.74 394.0,366.84 393.0,366.90 392.0,366.73 391.0,367.07 390.0,367.26 389.0,367.38 388.0,367.45 387.0,367.79 386.0,367.81 385.0,367.99 384.0,367.93 383.0,367.81 382.0,367.98 381.0,367.75 380.0,367.82 379.0,367.97 378.0,368.09 377.0,367.71 376.0,367.71 375.0,367.64 374.0,367.68 373.0,368.30 372.0,367.72 371.0,367.74 370.0,368.11 369.0,367.84 368.0,367.68 367.0,367.93 366.0,367.23 365.0,367.74 364.0,368.02 363.0,367.94 362.0,367.89 361.0,367.92 360.0,367.71 359.0,367.96 358.0,368.11 357.0,367.92 356.0,368.05 355.0,368.22 354.0,367.78 353.0,367.78 352.0,368.08 351.0,368.14 350.0,368.02 349.0,367.93 348.0,367.70 347.0,367.70 346.0,367.85 345.0,367.92 344.0,367.51 343.0,367.66 342.0,366.35 341.0,366.47 340.0,366.25 339.0,363.38 338.0,366.04 337.5,367.47 337.0,363.78 336.5,360.52 336.0,362.66 335.5,364.72 335.0,365.11 334.0,366.31 333.0,365.91 332.0,365.69 331.0,366.11 330.0,366.88 329.0,368.17 328.0,367.94 327.0,367.96 326.0,368.31 325.0,368.42 324.0,368.36 323.0,368.71 322.0,368.76 321.0,367.67 320.0,368.73 319.0,369.15 318.0,369.99 317.5,370.79 317.0,370.17 316.3,369.24 316.0,369.26 315.8,369.98 315.0,373.17 314.3,370.86 314.0,370.22 313.0,369.28 312.0,369.20 311.5,368.95 311.0,369.26 310.0,370.20 309.5,370.67 309.0,370.33 308.0,369.47 307.0,370.08 306.0,370.25 305.0,369.71 304.0,367.39 303.0,366.77 302.0,366.22 301.0,366.01 300.0,365.63 299.5,365.36 299.0,365.49 298.0,366.02 297.0,366.67 296.0,367.31 295.0,368.28 294.0,368.47 293.0,368.57 292.0,368.45 291.0,368.38 290.0,368.54 289.0,368.51 288.0,368.62 287.0,368.54 286.0,368.24 285.0,368.45 284.0,368.48 283.0,368.70 282.0,368.51 281.0,368.61 280.0,368.55 279.0,368.31 278.0,368.31 277.0,368.57 276.0,368.35 275.0,368.63 274.0,368.61 273.0,368.62 272.0,368.23 271.0,368.61 270.0,368.27 269.0,368.17 268.0,368.41 267.0,368.18 266.0,368.41 265.0,368.22 264.0,368.17 263.0,368.37 262.0,368.06 261.0,367.97 260.0,368.21 259.0,368.39 258.0,368.04 257.0,368.21 256.0,368.10 255.0,368.20 254.0,368.03 253.0,368.07 252.0,368.15 251.0,368.13 250.0,368.22 249.0,368.32 248.0,368.03 247.0,368.18 246.0,368.07 245.0,368.10 244.0,367.94 243.0,368.35 242.0,367.98 241.0,368.17 240.0,368.13 239.0,368.10 238.0,368.19 237.0,368.02 236.0,367.96 235.0,368.21 234.0,368.45 233.0,368.01 232.0,367.86 231.0,368.49 230.0,368.23 229.0,368.07 228.0,367.78 227.0,367.76 226.0,368.15 225.0,367.69 224.0,368.04 223.0,367.96 222.0,368.09 221.0,367.91 220.0,367.81 219.0,367.99 218.0,368.07 217.0,367.98 216.0,368.01 215.0,367.82 214.0,367.41 213.0,367.25 212.0,367.24 211.0,367.22 210.0,367.50 209.5,367.74 209.0,367.98 208.0,368.01 207.0,367.60 206.5,367.77 206.0,367.56 205.0,367.60 204.0,367.07 203.0,366.98 202.0,366.98 201.0,367.15 200.0,367.18 199.0,367.19 198.0,367.13 197.0,367.14 196.0,366.91 195.0,367.34 194.0,367.47 193.0,367.22 192.0,366.87 191.0,367.17 190.0,367.27 189.0,366.89 188.0,367.14 187.0,367.05 186.0,367.21 185.0,367.00 184.0,367.24 183.0,366.81 182.0,367.13 181.0,366.71 180.0,366.92 179.0,366.38 178.0,366.04 177.0,365.84 176.5,365.87 176.0,366.19 175.0,366.91 174.0,367.07 173.0,367.38 172.0,367.10 171.0,367.29 170.0,367.44 169.0,367.51 168.0,367.30 167.0,367.44 166.0,367.54 165.0,367.31 164.0,367.16 163.0,367.33 162.0,367.05 161.0,367.37 160.0,367.45 159.0,367.46 158.0,367.19 157.0,367.24 156.0,367.31 155.0,367.25 154.0,367.18 153.0,367.30 152.0,366.99 151.0,366.95 150.0,366.97 149.0,367.31 148.0,366.61 147.0,366.59 146.0,366.28 145.0,366.94 144.0,366.91 143.0,367.33 142.0,367.42 141.0,367.50 140.0,367.25 139.0,367.34 138.0,367.72 137.0,367.43 136.0,367.48 135.0,367.35 134.0,367.42 133.0,367.50 132.0,367.58 131.0,367.46 130.0,367.44 129.0,367.68 128.0,367.68 127.0,367.61 126.0,367.78 125.0,367.30 124.0,366.97 123.0,367.11 122.0,367.20 121.0,367.56 120.0,367.43 119.0,367.69 118.0,367.41 117.0,367.62 116.0,367.77 115.0,367.16 114.0,367.44 113.0,367.18 112.0,367.65 111.0,367.42 110.0,367.53 109.0,367.60 108.0,367.65 107.0,367.75 106.0,367.43 105.0,367.72 104.0,367.50 103.0,367.60 102.0,367.87 101.0,367.37 100.0,367.56 99.0,367.42 98.0,366.95 97.0,366.78 96.0,366.87 95.0,366.73 94.0,366.72 93.5,366.94 93.0,366.92 92.0,367.70 91.0,367.73 90.0,367.97 89.0,368.06 88.4,368.16 88.0,367.87 87.0,368.43 86.0,368.38 85.0,368.24 84.0,368.13 83.0,368.03 82.0,368.04 81.8,368.14"/></clipPath><g clip-path="url(#c2)" stroke="none"><rect x="80.60" y="330" width="14.90" height="55" fill="#ff2000"/><rect x="95.25" y="330" width="0.90" height="55" fill="#ffa000"/><rect x="96.15" y="330" width="28.45" height="55" fill="#ff2000"/><rect x="124.35" y="330" width="0.90" height="55" fill="#ffa000"/><rect x="125.25" y="330" width="79.15" height="55" fill="#ff2000"/><rect x="204.00" y="330" width="7.40" height="55" fill="#ffa000"/><rect x="211.00" y="330" width="5.60" height="55" fill="#ff2000"/><rect x="216.35" y="330" width="0.50" height="55" fill="#ffa000"/><rect x="216.85" y="330" width="240.55" height="55" fill="#ff2000"/><rect x="457.00" y="330" width="2.40" height="55" fill="#ffa000"/><rect x="459.00" y="330" width="4.40" height="55" fill="#ff2000"/><rect x="463.15" y="330" width="0.80" height="55" fill="#ffa000"/><rect x="463.95" y="330" width="6.25" height="55" fill="#ff2000"/><rect x="469.80" y="330" width="70.60" height="55" fill="#ffa000"/><rect x="540.15" y="330" width="0.70" height="55" fill="#ffff00"/><rect x="540.85" y="330" width="10.55" height="55" fill="#ffa000"/><rect x="551.00" y="330" width="52.60" height="55" fill="#ffff00"/><rect x="603.35" y="330" width="0.70" height="55" fill="#90ff00"/><rect x="604.05" y="330" width="42.55" height="55" fill="#ffff00"/><rect x="646.20" y="330" width="2.60" height="55" fill="#90ff00"/></g><g fill="none" stroke="#000" stroke-width="1.05" stroke-linejoin="round"><polyline points="81.8,364.70 82.0,363.98 83.0,364.62 84.0,364.96 85.0,364.49 86.0,364.88 87.0,364.25 88.0,364.09 88.4,364.56 89.0,364.89 90.0,365.03 91.0,364.70 92.0,364.02 93.0,364.19 93.5,363.59 94.0,363.42 95.0,364.22 96.0,363.51 97.0,363.63 98.0,363.21 99.0,364.56 100.0,364.33 101.0,364.51 102.0,364.57 103.0,364.21 104.0,363.85 105.0,363.96 106.0,363.70 107.0,364.60 108.0,364.15 109.0,364.13 110.0,365.13 111.0,364.13 112.0,364.68 113.0,364.48 114.0,364.62 115.0,364.96 116.0,364.97 117.0,365.46 118.0,364.97 119.0,364.98 120.0,365.08 121.0,365.03 122.0,365.05 123.0,364.66 124.0,364.77 125.0,364.95 126.0,364.68 127.0,363.99 128.0,363.42 129.0,364.57 130.0,364.29 131.0,364.13 132.0,363.90 133.0,363.83 134.0,363.84 135.0,363.41 136.0,363.74 137.0,363.28 138.0,362.97 139.0,362.76 140.0,361.93 141.0,362.52 142.0,363.80 143.0,363.31 144.0,363.05 145.0,361.93 146.0,362.48 147.0,362.73 148.0,362.84 149.0,363.17 150.0,363.14 151.0,363.28 152.0,363.74 153.0,363.46 154.0,363.39 155.0,363.96 156.0,364.50 157.0,364.22 158.0,363.58 159.0,364.14 160.0,364.28 161.0,364.22 162.0,364.29 163.0,364.03 164.0,364.19 165.0,364.01 166.0,364.28 167.0,364.60 168.0,364.48 169.0,363.99 170.0,364.34 171.0,364.33 172.0,364.71 173.0,363.70 174.0,362.34 175.0,361.41 176.0,361.46 176.5,361.14 177.0,361.35 178.0,361.18 179.0,362.82 180.0,363.47 181.0,363.39 182.0,363.72 183.0,363.90 184.0,363.91 185.0,363.82 186.0,364.12 187.0,363.44 188.0,363.34 189.0,364.13 190.0,363.68 191.0,363.67 192.0,363.45 193.0,363.39 194.0,362.79 195.0,362.85 196.0,363.66 197.0,364.28 198.0,363.30 199.0,362.98 200.0,363.67 201.0,363.50 202.0,363.76 203.0,364.16 204.0,363.84 205.0,364.14 206.0,364.50 206.5,363.75 207.0,363.69 208.0,362.93 209.0,362.93 209.5,363.73 210.0,363.60 211.0,363.74 212.0,364.49 213.0,364.08 214.0,363.72 215.0,364.19 216.0,363.30 217.0,363.94 218.0,363.30 219.0,363.21 220.0,363.54 221.0,363.69 222.0,363.45 223.0,363.48 224.0,363.58 225.0,363.74 226.0,363.52 227.0,363.52 228.0,364.22 229.0,364.06 230.0,363.92 231.0,363.68 232.0,363.50 233.0,364.27 234.0,363.58 235.0,363.99 236.0,363.66 237.0,364.16 238.0,364.49 239.0,363.15 240.0,364.02 241.0,364.23 242.0,363.82 243.0,363.64 244.0,363.77 245.0,363.55 246.0,363.64 247.0,363.89 248.0,364.09 249.0,363.99 250.0,363.34 251.0,363.86 252.0,364.26 253.0,364.21 254.0,363.38 255.0,363.90 256.0,363.55 257.0,363.67 258.0,363.94 259.0,363.59 260.0,363.41 261.0,362.98 262.0,362.97 263.0,363.24 264.0,363.17 265.0,363.65 266.0,363.11 267.0,363.37 268.0,363.99 269.0,363.87 270.0,363.35 271.0,364.54 272.0,363.51 273.0,363.88 274.0,364.05 275.0,363.64 276.0,363.39 277.0,364.18 278.0,363.60 279.0,363.67 280.0,363.63 281.0,364.05 282.0,364.04 283.0,363.87 284.0,363.76 285.0,363.96 286.0,363.98 287.0,363.72 288.0,363.99 289.0,363.83 290.0,364.12 291.0,363.98 292.0,363.84 293.0,363.88 294.0,364.20 295.0,364.92 296.0,364.12 297.0,363.51 298.0,362.96 299.0,363.06 299.5,362.46 300.0,362.80 301.0,363.16 302.0,363.62 303.0,364.37 304.0,364.88 305.0,361.09 306.0,359.78 307.0,360.82 308.0,361.71 309.0,360.04 309.5,359.68 310.0,360.66 311.0,361.94 311.5,362.50 312.0,362.35 313.0,361.99 314.0,359.22 314.3,359.33 315.0,353.89 315.8,360.92 316.0,361.55 316.3,362.74 317.0,359.92 317.5,358.83 318.0,359.92 319.0,362.26 320.0,363.10 321.0,361.57 322.0,363.35 323.0,363.29 324.0,364.44 325.0,363.65 326.0,363.63 327.0,364.81 328.0,365.16 329.0,364.96 330.0,363.05 331.0,360.87 332.0,360.11 333.0,361.31 334.0,360.98 335.0,358.59 335.5,357.49 336.0,352.84 336.5,349.24 337.0,356.80 337.5,364.40 338.0,361.74 339.0,356.25 340.0,363.87 341.0,363.57 342.0,363.11 343.0,364.00 344.0,363.69 345.0,364.56 346.0,364.17 347.0,363.78 348.0,363.95 349.0,364.16 350.0,364.43 351.0,363.80 352.0,364.18 353.0,364.08 354.0,363.97 355.0,364.07 356.0,364.26 357.0,364.28 358.0,364.48 359.0,363.77 360.0,364.55 361.0,364.78 362.0,365.20 363.0,364.26 364.0,364.85 365.0,364.40 366.0,363.38 367.0,364.19 368.0,364.06 369.0,364.58 370.0,364.33 371.0,364.61 372.0,364.68 373.0,364.13 374.0,364.21 375.0,364.20 376.0,364.44 377.0,364.18 378.0,364.56 379.0,364.33 380.0,364.11 381.0,364.36 382.0,365.42 383.0,364.24 384.0,363.93 385.0,364.28 386.0,364.48 387.0,364.00 388.0,363.85 389.0,363.56 390.0,364.14 391.0,363.62 392.0,362.99 393.0,363.49 394.0,362.96 395.0,362.24 396.0,361.99 397.0,362.10 398.0,361.61 399.0,362.23 400.0,363.49 401.0,360.96 402.0,359.40 403.0,357.77 404.0,356.82 405.0,357.71 406.0,359.11 407.0,359.54 408.0,359.84 409.0,362.95 410.0,363.98 411.0,365.20 412.0,366.46 413.0,365.46 414.0,364.43 415.0,364.30 416.0,365.44 417.0,363.60 418.0,361.41 419.0,360.65 420.0,360.86 421.0,362.34 422.0,363.48 423.0,363.37 424.0,362.58 425.0,362.71 426.0,363.55 427.0,363.74 428.0,364.11 429.0,364.93 430.0,364.78 431.0,365.49 432.0,365.21 433.0,365.17 433.5,364.45 434.0,364.46 435.0,365.39 436.0,365.18 437.0,365.47 438.0,365.97 439.0,365.33 440.0,365.38 441.0,364.47 442.0,364.64 443.0,364.18 444.0,364.10 445.0,363.73 446.0,363.77 447.0,363.35 448.0,363.45 449.0,363.55 450.0,363.83 451.0,364.16 452.0,364.37 453.0,364.52 454.0,364.66 455.0,364.77 456.0,365.30 457.0,365.05 458.0,364.49 459.0,364.11 460.0,364.37 461.0,363.91 462.0,364.41 463.0,364.69 464.0,365.01 465.0,364.72 466.0,365.18 467.0,365.03 468.0,365.12 469.0,364.86 470.0,364.63 471.0,366.03 472.0,366.13 473.0,366.08 474.0,366.23 475.0,366.08 476.0,366.38 477.0,365.72 478.0,365.37 479.0,366.19 480.0,366.44 481.0,365.29 482.0,364.98 483.0,365.74 484.0,365.42 485.0,365.74 486.0,365.81 487.0,365.91 488.0,365.35 489.0,365.00 490.0,366.14 491.0,365.33 492.0,365.76 493.0,366.05 494.0,366.20 495.0,365.68 496.0,366.24 497.0,365.87 498.0,365.84 499.0,366.11 500.0,365.68 501.0,365.92 502.0,365.76 503.0,365.54 504.0,365.27 505.0,365.47 506.0,365.74 507.0,363.25 508.0,362.74 508.5,363.00 509.0,363.57 510.0,365.81 511.0,366.09 512.0,366.16 513.0,365.49 514.0,365.79 515.0,365.57 516.0,366.13 517.0,365.43 518.0,364.84 519.0,365.84 520.0,366.54 521.0,365.08 522.0,365.49 523.0,364.88 524.0,364.89 525.0,364.15 526.0,363.64 527.0,363.98 528.0,363.03 529.0,362.18 529.5,361.58 530.0,361.43 531.0,362.11 532.0,361.81 533.0,361.92 534.0,363.41 535.0,364.19 536.0,364.30 537.0,363.87 538.0,365.20 539.0,365.59 540.0,366.65 541.0,366.22 542.0,365.82 543.0,365.87 544.0,365.62 545.0,365.10 546.0,365.65 547.0,366.29 548.0,365.96 549.0,366.93 550.0,367.09 551.0,367.30 552.0,367.47 553.0,366.57 554.0,365.94 555.0,366.03 556.0,365.94 557.0,366.17 558.0,365.95 559.0,364.77 560.0,363.22 561.0,363.81 562.0,365.19 563.0,366.21 564.0,365.32 565.0,365.71 566.0,365.40 567.0,365.70 568.0,365.96 569.0,365.09 570.0,365.40 571.0,365.47 572.0,365.94 573.0,365.03 574.0,364.92 575.0,363.75 576.0,364.12 577.0,365.25 578.0,365.20 579.0,365.02 580.0,365.67 581.0,364.77 582.0,364.41 583.0,364.33 584.0,365.09 585.0,364.70 586.0,365.07 587.0,365.00 588.0,365.36 589.0,365.62 590.0,365.09 591.0,364.98 592.0,365.21 593.0,364.79 594.0,364.88 595.0,364.79 596.0,364.51 597.0,365.19 598.0,364.55 599.0,364.75 600.0,364.19 601.0,363.72 602.0,363.21 603.0,364.32 604.0,364.76 605.0,365.87 606.0,365.07 607.0,364.96 608.0,365.59 609.0,365.62 610.0,365.34 611.0,364.77 612.0,364.87 613.0,364.79 614.0,364.43 615.0,363.81 616.0,363.39 617.0,363.13 618.0,363.51 619.0,362.93 620.0,361.86 621.0,362.39 622.0,363.17 623.0,363.27 624.0,362.67 625.0,362.40 626.0,362.27 627.0,362.40 628.0,361.34 629.0,360.54 629.5,360.38 630.0,359.63 631.0,359.08 631.5,358.65 632.0,359.50 633.0,360.17 634.0,361.45 635.0,361.37 636.0,362.07 637.0,360.93 638.0,360.46 639.0,356.77 639.5,356.09 640.0,355.08 641.0,353.82 641.5,353.26 642.0,354.08 643.0,354.45 644.0,355.16 645.0,354.29 646.0,355.55 646.5,356.00 647.0,355.66 648.0,355.11 648.7,355.67"/><polyline points="648.7,369.06 648.0,369.21 647.0,369.26 646.5,369.43 646.0,369.40 645.0,369.35 644.0,369.33 643.0,370.08 642.0,369.44 641.5,369.69 641.0,368.99 640.0,368.68 639.5,368.16 639.0,368.86 638.0,369.02 637.0,368.81 636.0,368.15 635.0,368.45 634.0,368.85 633.0,368.64 632.0,368.54 631.5,368.43 631.0,368.71 630.0,369.07 629.5,368.92 629.0,368.76 628.0,368.02 627.0,368.33 626.0,367.90 625.0,368.48 624.0,368.34 623.0,368.54 622.0,368.51 621.0,368.57 620.0,368.65 619.0,368.54 618.0,368.12 617.0,367.72 616.0,367.46 615.0,367.53 614.0,367.09 613.0,367.31 612.0,366.81 611.0,366.75 610.0,366.79 609.0,366.94 608.0,367.44 607.0,367.12 606.0,367.03 605.0,367.04 604.0,367.10 603.0,366.99 602.0,367.33 601.0,367.15 600.0,367.38 599.0,367.62 598.0,367.38 597.0,367.59 596.0,367.70 595.0,367.74 594.0,368.06 593.0,368.26 592.0,367.84 591.0,367.84 590.0,367.49 589.0,367.60 588.0,367.72 587.0,367.59 586.0,367.28 585.0,367.42 584.0,367.73 583.0,367.40 582.0,367.53 581.0,367.16 580.0,366.64 579.0,366.95 578.0,366.97 577.0,367.30 576.0,367.02 575.0,367.26 574.0,366.65 573.0,366.86 572.0,366.72 571.0,367.25 570.0,367.12 569.0,366.91 568.0,366.90 567.0,366.72 566.0,366.98 565.0,367.01 564.0,366.68 563.0,367.00 562.0,366.74 561.0,366.60 560.0,366.66 559.0,366.81 558.0,366.75 557.0,366.77 556.0,366.72 555.0,366.65 554.0,366.33 553.0,366.77 552.0,367.67 551.0,367.50 550.0,367.29 549.0,367.20 548.0,367.38 547.0,367.00 546.0,367.35 545.0,367.35 544.0,367.35 543.0,367.27 542.0,367.10 541.0,367.49 540.0,367.24 539.0,367.76 538.0,367.36 537.0,367.66 536.0,367.85 535.0,367.83 534.0,368.21 533.0,368.86 532.0,368.19 531.0,367.58 530.0,368.16 529.5,368.53 529.0,368.54 528.0,368.22 527.0,367.56 526.0,367.63 525.0,367.60 524.0,367.33 523.0,367.68 522.0,367.53 521.0,367.46 520.0,368.06 519.0,367.73 518.0,367.51 517.0,367.61 516.0,367.82 515.0,367.89 514.0,367.87 513.0,367.55 512.0,368.06 511.0,367.96 510.0,368.16 509.0,367.88 508.5,368.55 508.0,368.57 507.0,369.39 506.0,367.91 505.0,367.71 504.0,367.76 503.0,367.73 502.0,367.65 501.0,367.63 500.0,367.45 499.0,367.53 498.0,367.68 497.0,367.53 496.0,367.59 495.0,367.50 494.0,367.34 493.0,367.35 492.0,367.64 491.0,367.53 490.0,367.40 489.0,367.78 488.0,367.71 487.0,367.68 486.0,367.36 485.0,367.56 484.0,367.26 483.0,367.83 482.0,367.95 481.0,367.87 480.0,367.60 479.0,367.51 478.0,367.60 477.0,367.60 476.0,367.77 475.0,367.85 474.0,367.48 473.0,367.80 472.0,367.48 471.0,367.99 470.0,368.08 469.0,368.41 468.0,368.42 467.0,368.05 466.0,368.46 465.0,368.50 464.0,368.61 463.0,368.86 462.0,368.77 461.0,368.96 460.0,369.01 459.0,368.63 458.0,368.80 457.0,368.46 456.0,368.36 455.0,368.12 454.0,367.74 453.0,367.56 452.0,367.14 451.0,367.34 450.0,367.26 449.0,367.21 448.0,367.73 447.0,368.00 446.0,368.00 445.0,368.39 444.0,368.13 443.0,367.97 442.0,368.01 441.0,367.51 440.0,367.14 439.0,367.52 438.0,367.71 437.0,367.68 436.0,367.54 435.0,367.36 434.0,366.63 433.5,366.72 433.0,366.89 432.0,367.34 431.0,367.57 430.0,367.81 429.0,367.80 428.0,367.90 427.0,368.16 426.0,367.94 425.0,367.80 424.0,368.12 423.0,367.94 422.0,367.50 421.0,368.21 420.0,368.53 419.0,368.50 418.0,368.94 417.0,369.28 416.0,369.45 415.0,368.00 414.0,367.21 413.0,367.23 412.0,367.37 411.0,366.70 410.0,366.12 409.0,366.86 408.0,368.33 407.0,367.84 406.0,367.97 405.0,367.52 404.0,367.25 403.0,366.65 402.0,366.43 401.0,366.39 400.0,366.67 399.0,366.15 398.0,365.84 397.0,366.18 396.0,366.49 395.0,366.74 394.0,366.84 393.0,366.90 392.0,366.73 391.0,367.07 390.0,367.26 389.0,367.38 388.0,367.45 387.0,367.79 386.0,367.81 385.0,367.99 384.0,367.93 383.0,367.81 382.0,367.98 381.0,367.75 380.0,367.82 379.0,367.97 378.0,368.09 377.0,367.71 376.0,367.71 375.0,367.64 374.0,367.68 373.0,368.30 372.0,367.72 371.0,367.74 370.0,368.11 369.0,367.84 368.0,367.68 367.0,367.93 366.0,367.23 365.0,367.74 364.0,368.02 363.0,367.94 362.0,367.89 361.0,367.92 360.0,367.71 359.0,367.96 358.0,368.11 357.0,367.92 356.0,368.05 355.0,368.22 354.0,367.78 353.0,367.78 352.0,368.08 351.0,368.14 350.0,368.02 349.0,367.93 348.0,367.70 347.0,367.70 346.0,367.85 345.0,367.92 344.0,367.51 343.0,367.66 342.0,366.35 341.0,366.47 340.0,366.25 339.0,363.38 338.0,366.04 337.5,367.47 337.0,363.78 336.5,360.52 336.0,362.66 335.5,364.72 335.0,365.11 334.0,366.31 333.0,365.91 332.0,365.69 331.0,366.11 330.0,366.88 329.0,368.17 328.0,367.94 327.0,367.96 326.0,368.31 325.0,368.42 324.0,368.36 323.0,368.71 322.0,368.76 321.0,367.67 320.0,368.73 319.0,369.15 318.0,369.99 317.5,370.79 317.0,370.17 316.3,369.24 316.0,369.26 315.8,369.98 315.0,373.17 314.3,370.86 314.0,370.22 313.0,369.28 312.0,369.20 311.5,368.95 311.0,369.26 310.0,370.20 309.5,370.67 309.0,370.33 308.0,369.47 307.0,370.08 306.0,370.25 305.0,369.71 304.0,367.39 303.0,366.77 302.0,366.22 301.0,366.01 300.0,365.63 299.5,365.36 299.0,365.49 298.0,366.02 297.0,366.67 296.0,367.31 295.0,368.28 294.0,368.47 293.0,368.57 292.0,368.45 291.0,368.38 290.0,368.54 289.0,368.51 288.0,368.62 287.0,368.54 286.0,368.24 285.0,368.45 284.0,368.48 283.0,368.70 282.0,368.51 281.0,368.61 280.0,368.55 279.0,368.31 278.0,368.31 277.0,368.57 276.0,368.35 275.0,368.63 274.0,368.61 273.0,368.62 272.0,368.23 271.0,368.61 270.0,368.27 269.0,368.17 268.0,368.41 267.0,368.18 266.0,368.41 265.0,368.22 264.0,368.17 263.0,368.37 262.0,368.06 261.0,367.97 260.0,368.21 259.0,368.39 258.0,368.04 257.0,368.21 256.0,368.10 255.0,368.20 254.0,368.03 253.0,368.07 252.0,368.15 251.0,368.13 250.0,368.22 249.0,368.32 248.0,368.03 247.0,368.18 246.0,368.07 245.0,368.10 244.0,367.94 243.0,368.35 242.0,367.98 241.0,368.17 240.0,368.13 239.0,368.10 238.0,368.19 237.0,368.02 236.0,367.96 235.0,368.21 234.0,368.45 233.0,368.01 232.0,367.86 231.0,368.49 230.0,368.23 229.0,368.07 228.0,367.78 227.0,367.76 226.0,368.15 225.0,367.69 224.0,368.04 223.0,367.96 222.0,368.09 221.0,367.91 220.0,367.81 219.0,367.99 218.0,368.07 217.0,367.98 216.0,368.01 215.0,367.82 214.0,367.41 213.0,367.25 212.0,367.24 211.0,367.22 210.0,367.50 209.5,367.74 209.0,367.98 208.0,368.01 207.0,367.60 206.5,367.77 206.0,367.56 205.0,367.60 204.0,367.07 203.0,366.98 202.0,366.98 201.0,367.15 200.0,367.18 199.0,367.19 198.0,367.13 197.0,367.14 196.0,366.91 195.0,367.34 194.0,367.47 193.0,367.22 192.0,366.87 191.0,367.17 190.0,367.27 189.0,366.89 188.0,367.14 187.0,367.05 186.0,367.21 185.0,367.00 184.0,367.24 183.0,366.81 182.0,367.13 181.0,366.71 180.0,366.92 179.0,366.38 178.0,366.04 177.0,365.84 176.5,365.87 176.0,366.19 175.0,366.91 174.0,367.07 173.0,367.38 172.0,367.10 171.0,367.29 170.0,367.44 169.0,367.51 168.0,367.30 167.0,367.44 166.0,367.54 165.0,367.31 164.0,367.16 163.0,367.33 162.0,367.05 161.0,367.37 160.0,367.45 159.0,367.46 158.0,367.19 157.0,367.24 156.0,367.31 155.0,367.25 154.0,367.18 153.0,367.30 152.0,366.99 151.0,366.95 150.0,366.97 149.0,367.31 148.0,366.61 147.0,366.59 146.0,366.28 145.0,366.94 144.0,366.91 143.0,367.33 142.0,367.42 141.0,367.50 140.0,367.25 139.0,367.34 138.0,367.72 137.0,367.43 136.0,367.48 135.0,367.35 134.0,367.42 133.0,367.50 132.0,367.58 131.0,367.46 130.0,367.44 129.0,367.68 128.0,367.68 127.0,367.61 126.0,367.78 125.0,367.30 124.0,366.97 123.0,367.11 122.0,367.20 121.0,367.56 120.0,367.43 119.0,367.69 118.0,367.41 117.0,367.62 116.0,367.77 115.0,367.16 114.0,367.44 113.0,367.18 112.0,367.65 111.0,367.42 110.0,367.53 109.0,367.60 108.0,367.65 107.0,367.75 106.0,367.43 105.0,367.72 104.0,367.50 103.0,367.60 102.0,367.87 101.0,367.37 100.0,367.56 99.0,367.42 98.0,366.95 97.0,366.78 96.0,366.87 95.0,366.73 94.0,366.72 93.5,366.94 93.0,366.92 92.0,367.70 91.0,367.73 90.0,367.97 89.0,368.06 88.4,368.16 88.0,367.87 87.0,368.43 86.0,368.38 85.0,368.24 84.0,368.13 83.0,368.03 82.0,368.04 81.8,368.14"/></g>
<g stroke="none"><rect x="81.2" y="234.0" width="567.6" height="6.6" fill="#ff2000"/><rect x="95.1" y="234.0" width="553.7" height="6.6" fill="#ffa000"/><rect x="96.3" y="234.0" width="552.5" height="6.6" fill="#ff2000"/><rect x="124.2" y="234.0" width="524.6" height="6.6" fill="#ffa000"/><rect x="125.4" y="234.0" width="523.4" height="6.6" fill="#ff2000"/><rect x="204.0" y="234.0" width="444.8" height="6.6" fill="#ffa000"/><rect x="211.0" y="234.0" width="437.8" height="6.6" fill="#ff2000"/><rect x="216.2" y="234.0" width="432.6" height="6.6" fill="#ffa000"/><rect x="217.0" y="234.0" width="431.8" height="6.6" fill="#ff2000"/><rect x="457.0" y="234.0" width="191.8" height="6.6" fill="#ffa000"/><rect x="459.0" y="234.0" width="189.8" height="6.6" fill="#ff2000"/><rect x="463.0" y="234.0" width="185.8" height="6.6" fill="#ffa000"/><rect x="464.1" y="234.0" width="184.7" height="6.6" fill="#ff2000"/><rect x="469.8" y="234.0" width="179.0" height="6.6" fill="#ffa000"/><rect x="540.0" y="234.0" width="108.8" height="6.6" fill="#ffff00"/><rect x="541.0" y="234.0" width="107.8" height="6.6" fill="#ffa000"/><rect x="551.0" y="234.0" width="97.8" height="6.6" fill="#ffff00"/><rect x="603.2" y="234.0" width="45.6" height="6.6" fill="#90ff00"/><rect x="604.2" y="234.0" width="44.6" height="6.6" fill="#ffff00"/><rect x="646.2" y="234.0" width="2.6" height="6.6" fill="#90ff00"/>
<rect x="81.2" y="234" width="567.6" height="1" fill="#000" fill-opacity="0.22"/>
<rect x="81.2" y="240" width="567.6" height="0.6" fill="#000" fill-opacity="0.25"/>
</g>
<text transform="translate(81.6 22) scale(1 1.045)" font-size="21.26">2026/04/22</text>
<text transform="translate(235.3 22) scale(1 1.07)" font-size="21.26" letter-spacing="0.1">AE(11) (Real-Time)</text>
<text transform="translate(479 22) scale(1 1.07)" font-size="11.34" letter-spacing="-0.03" stroke-width="0.1">WDC for Geomagnetism, Kyoto</text>
<text transform="translate(75.6 31) scale(1 1.06)" font-size="11.34" text-anchor="end" letter-spacing="1.0" stroke-width="0.1">100<tspan dx="0.75">0</tspan></text>
<text transform="translate(75.6 59) scale(1 1.06)" font-size="11.34" text-anchor="end" letter-spacing="1.0" stroke-width="0.1">50<tspan dx="0.75">0</tspan></text>
<text transform="translate(75.6 88) scale(1 1.06)" font-size="11.34" text-anchor="end" letter-spacing="1.0" stroke-width="0.1">0</text>
<text transform="translate(75.6 116) scale(1 1.06)" font-size="11.34" text-anchor="end" letter-spacing="1.0" stroke-width="0.1">- <tspan dx="-1.6">50</tspan><tspan dx="0.75">0</tspan></text>
<text transform="translate(75.6 144) scale(1 1.06)" font-size="11.34" text-anchor="end" letter-spacing="1.0" stroke-width="0.1">- <tspan dx="-2.2">100</tspan><tspan dx="0.75">0</tspan></text>
<text transform="translate(75.6 173) scale(1 1.06)" font-size="11.34" text-anchor="end" letter-spacing="1.0" stroke-width="0.1">- <tspan dx="-2.2">150</tspan><tspan dx="0.75">0</tspan></text>
<text transform="translate(75.6 201) scale(1 1.06)" font-size="11.34" text-anchor="end" letter-spacing="1.0" stroke-width="0.1">- <tspan dx="-2.2">200</tspan><tspan dx="0.75">0</tspan></text>
<text transform="translate(77.0 43) scale(1 1.06)" font-size="11.34" text-anchor="end" letter-spacing="0.6" stroke-width="0.1">(nT)</text>
<text transform="translate(75.6 258) scale(1 1.06)" font-size="11.34" text-anchor="end" letter-spacing="1.0" stroke-width="0.1">200<tspan dx="0.75">0</tspan></text>
<text transform="translate(75.6 286) scale(1 1.06)" font-size="11.34" text-anchor="end" letter-spacing="1.0" stroke-width="0.1">150<tspan dx="0.75">0</tspan></text>
<text transform="translate(75.6 314) scale(1 1.06)" font-size="11.34" text-anchor="end" letter-spacing="1.0" stroke-width="0.1">100<tspan dx="0.75">0</tspan></text>
<text transform="translate(75.6 343) scale(1 1.06)" font-size="11.34" text-anchor="end" letter-spacing="1.0" stroke-width="0.1">50<tspan dx="0.75">0</tspan></text>
<text transform="translate(75.6 371) scale(1 1.06)" font-size="11.34" text-anchor="end" letter-spacing="1.0" stroke-width="0.1">0</text>
<text transform="translate(75.6 400) scale(1 1.06)" font-size="11.34" text-anchor="end" letter-spacing="1.0" stroke-width="0.1">- <tspan dx="-1.6">50</tspan><tspan dx="0.75">0</tspan></text>
<text transform="translate(77.0 270) scale(1 1.06)" font-size="11.34" text-anchor="end" letter-spacing="0.6" stroke-width="0.1">(nT)</text>
<text transform="translate(11.0 70) scale(1 1.07)" font-size="21.26" letter-spacing="-0.3">AU</text>
<text transform="translate(11.0 121) scale(1 1.07)" font-size="21.26" letter-spacing="-0.3">AL</text>
<text transform="translate(11.0 346) scale(1 1.07)" font-size="21.26" letter-spacing="-0.3">AE</text>
<text transform="translate(11.0 389) scale(1 1.07)" font-size="21.26" letter-spacing="-0.3">AO</text>
<text transform="translate(81.0 208) scale(1 1.09)" font-size="11.34" text-anchor="middle" stroke-width="0.1">00</text>
<text transform="translate(222.8 208) scale(1 1.09)" font-size="11.34" text-anchor="middle" stroke-width="0.1">06</text>
<text transform="translate(364.5 208) scale(1 1.09)" font-size="11.34" text-anchor="middle" stroke-width="0.1">12</text>
<text transform="translate(506.2 208) scale(1 1.09)" font-size="11.34" text-anchor="middle" stroke-width="0.1">18</text>
<text transform="translate(648.0 208) scale(1 1.09)" font-size="11.34" text-anchor="middle" stroke-width="0.1">24</text>
<text transform="translate(365.2 222) scale(1 1.04)" font-size="13.7" text-anchor="middle" letter-spacing="0.3">U T</text>
<text transform="translate(81.0 407) scale(1 1.09)" font-size="11.34" text-anchor="middle" stroke-width="0.1">00</text>
<text transform="translate(222.8 407) scale(1 1.09)" font-size="11.34" text-anchor="middle" stroke-width="0.1">06</text>
<text transform="translate(364.5 407) scale(1 1.09)" font-size="11.34" text-anchor="middle" stroke-width="0.1">12</text>
<text transform="translate(506.2 407) scale(1 1.09)" font-size="11.34" text-anchor="middle" stroke-width="0.1">18</text>
<text transform="translate(648.0 407) scale(1 1.09)" font-size="11.34" text-anchor="middle" stroke-width="0.1">24</text>
<text transform="translate(365.2 421) scale(1 1.04)" font-size="13.7" text-anchor="middle" letter-spacing="0.3">U T</text>
<text transform="translate(669.5 65) scale(1 1.06)" font-size="11.34" text-anchor="end" letter-spacing="0.3" fill="#ff0080" stroke="#ff0080" stroke-width="0.1">12</text>
<text transform="translate(669.5 77) scale(1 1.06)" font-size="11.34" text-anchor="end" letter-spacing="0.3" fill="#ff2000" stroke="#ff2000" stroke-width="0.1">11</text>
<text transform="translate(669.5 89) scale(1 1.06)" font-size="11.34" text-anchor="end" letter-spacing="0.3" fill="#ff9000" stroke="#ff9000" stroke-width="0.1">10</text>
<text transform="translate(669.5 101) scale(1 1.06)" font-size="11.34" text-anchor="end" letter-spacing="0.3" fill="#ffff00" stroke="#ffff00" stroke-width="0.1">9</text>
<text transform="translate(669.5 113) scale(1 1.06)" font-size="11.34" text-anchor="end" letter-spacing="0.3" fill="#90ff00" stroke="#90ff00" stroke-width="0.1">8</text>
<text transform="translate(669.5 125) scale(1 1.06)" font-size="11.34" text-anchor="end" letter-spacing="0.3" fill="#00ffd0" stroke="#00ffd0" stroke-width="0.1">7</text>
<text transform="translate(669.5 137) scale(1 1.06)" font-size="11.34" text-anchor="end" letter-spacing="0.3" fill="#0080ff" stroke="#0080ff" stroke-width="0.1">6</text>
<text transform="translate(669.5 149) scale(1 1.06)" font-size="11.34" text-anchor="end" letter-spacing="0.3" fill="#3000ff" stroke="#3000ff" stroke-width="0.1">5</text>
<text transform="translate(669.5 161) scale(1 1.06)" font-size="11.34" text-anchor="end" letter-spacing="0.3" fill="#ff00ff" stroke="#ff00ff" stroke-width="0.1">4</text>
<text transform="translate(669.5 173) scale(1 1.06)" font-size="11.34" text-anchor="end" letter-spacing="0.3" fill="#000000" stroke="#000000" stroke-width="0.1">3</text>
<text transform="translate(669.5 185) scale(1 1.06)" font-size="11.34" text-anchor="end" letter-spacing="0.3" fill="#505050" stroke="#505050" stroke-width="0.1">2</text>
<text transform="translate(669.5 198) scale(1 1.06)" font-size="11.34" text-anchor="end" letter-spacing="0.3" fill="#c8c8c8" stroke="#c8c8c8" stroke-width="0.1">1</text>
<text transform="translate(669.5 263) scale(1 1.06)" font-size="11.34" text-anchor="end" letter-spacing="0.3" fill="#ff0080" stroke="#ff0080" stroke-width="0.1">12</text>
<text transform="translate(669.5 275) scale(1 1.06)" font-size="11.34" text-anchor="end" letter-spacing="0.3" fill="#ff2000" stroke="#ff2000" stroke-width="0.1">11</text>
<text transform="translate(669.5 288) scale(1 1.06)" font-size="11.34" text-anchor="end" letter-spacing="0.3" fill="#ff9000" stroke="#ff9000" stroke-width="0.1">10</text>
<text transform="translate(669.5 300) scale(1 1.06)" font-size="11.34" text-anchor="end" letter-spacing="0.3" fill="#ffff00" stroke="#ffff00" stroke-width="0.1">9</text>
<text transform="translate(669.5 312) scale(1 1.06)" font-size="11.34" text-anchor="end" letter-spacing="0.3" fill="#90ff00" stroke="#90ff00" stroke-width="0.1">8</text>
<text transform="translate(669.5 324) scale(1 1.06)" font-size="11.34" text-anchor="end" letter-spacing="0.3" fill="#00ffd0" stroke="#00ffd0" stroke-width="0.1">7</text>
<text transform="translate(669.5 336) scale(1 1.06)" font-size="11.34" text-anchor="end" letter-spacing="0.3" fill="#0080ff" stroke="#0080ff" stroke-width="0.1">6</text>
<text transform="translate(669.5 348) scale(1 1.06)" font-size="11.34" text-anchor="end" letter-spacing="0.3" fill="#3000ff" stroke="#3000ff" stroke-width="0.1">5</text>
<text transform="translate(669.5 360) scale(1 1.06)" font-size="11.34" text-anchor="end" letter-spacing="0.3" fill="#ff00ff" stroke="#ff00ff" stroke-width="0.1">4</text>
<text transform="translate(669.5 372) scale(1 1.06)" font-size="11.34" text-anchor="end" letter-spacing="0.3" fill="#000000" stroke="#000000" stroke-width="0.1">3</text>
<text transform="translate(669.5 384) scale(1 1.06)" font-size="11.34" text-anchor="end" letter-spacing="0.3" fill="#505050" stroke="#505050" stroke-width="0.1">2</text>
<text transform="translate(669.5 396) scale(1 1.06)" font-size="11.34" text-anchor="end" letter-spacing="0.3" fill="#c8c8c8" stroke="#c8c8c8" stroke-width="0.1">1</text>
<text transform="translate(649.1 444) scale(1 1.07)" font-size="11.34" text-anchor="end" letter-spacing="-0.06" stroke-width="0.1">[Created at 2026-04-23 00:40UT]</text>
</svg>
</body></html>
